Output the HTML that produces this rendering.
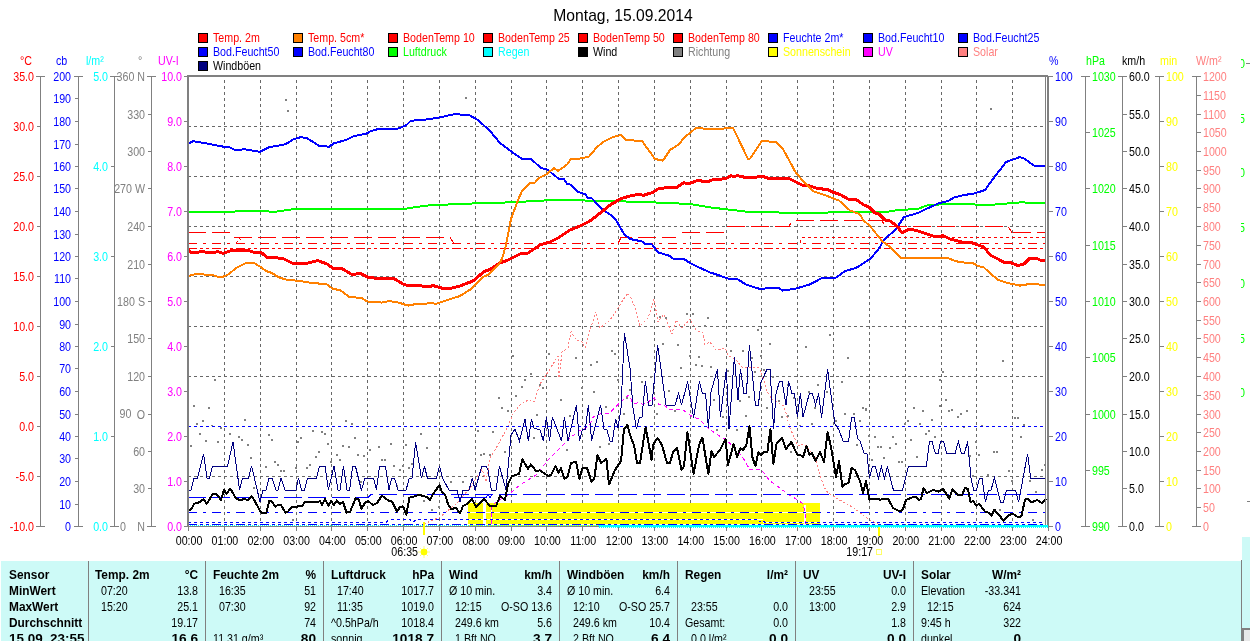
<!DOCTYPE html><html><head><meta charset="utf-8"><title>Chart</title><style>html,body{margin:0;padding:0;background:#fff;overflow:hidden}svg{display:block;will-change:transform}text{white-space:pre;font-family:"Liberation Sans",sans-serif}</style></head><body><svg width="1250" height="641" viewBox="0 0 1250 641" font-family="&quot;Liberation Sans&quot;, sans-serif" shape-rendering="crispEdges">
<rect x="0" y="0" width="1250" height="641" fill="#fff"/>
<text transform="translate(623,21) scale(0.98,1)" text-anchor="middle" fill="#000" font-size="16">Montag, 15.09.2014</text>
<rect x="198.5" y="33.5" width="9" height="9" fill="#f00" stroke="#000"/>
<text transform="translate(213,41.5) scale(0.89,1)" text-anchor="start" fill="#f00" font-size="12">Temp. 2m</text>
<rect x="293.5" y="33.5" width="9" height="9" fill="#ff8000" stroke="#000"/>
<text transform="translate(308,41.5) scale(0.89,1)" text-anchor="start" fill="#f00" font-size="12">Temp. 5cm*</text>
<rect x="388.5" y="33.5" width="9" height="9" fill="#f00" stroke="#000"/>
<text transform="translate(403,41.5) scale(0.89,1)" text-anchor="start" fill="#f00" font-size="12">BodenTemp 10</text>
<rect x="483.5" y="33.5" width="9" height="9" fill="#f00" stroke="#000"/>
<text transform="translate(498,41.5) scale(0.89,1)" text-anchor="start" fill="#f00" font-size="12">BodenTemp 25</text>
<rect x="578.5" y="33.5" width="9" height="9" fill="#f00" stroke="#000"/>
<text transform="translate(593,41.5) scale(0.89,1)" text-anchor="start" fill="#f00" font-size="12">BodenTemp 50</text>
<rect x="673.5" y="33.5" width="9" height="9" fill="#f00" stroke="#000"/>
<text transform="translate(688,41.5) scale(0.89,1)" text-anchor="start" fill="#f00" font-size="12">BodenTemp 80</text>
<rect x="768.5" y="33.5" width="9" height="9" fill="#00f" stroke="#000"/>
<text transform="translate(783,41.5) scale(0.89,1)" text-anchor="start" fill="#00f" font-size="12">Feuchte 2m*</text>
<rect x="863.5" y="33.5" width="9" height="9" fill="#00f" stroke="#000"/>
<text transform="translate(878,41.5) scale(0.89,1)" text-anchor="start" fill="#00f" font-size="12">Bod.Feucht10</text>
<rect x="958.5" y="33.5" width="9" height="9" fill="#00f" stroke="#000"/>
<text transform="translate(973,41.5) scale(0.89,1)" text-anchor="start" fill="#00f" font-size="12">Bod.Feucht25</text>
<rect x="198.5" y="47.5" width="9" height="9" fill="#00f" stroke="#000"/>
<text transform="translate(213,55.5) scale(0.89,1)" text-anchor="start" fill="#00f" font-size="12">Bod.Feucht50</text>
<rect x="293.5" y="47.5" width="9" height="9" fill="#00f" stroke="#000"/>
<text transform="translate(308,55.5) scale(0.89,1)" text-anchor="start" fill="#00f" font-size="12">Bod.Feucht80</text>
<rect x="388.5" y="47.5" width="9" height="9" fill="#0f0" stroke="#000"/>
<text transform="translate(403,55.5) scale(0.89,1)" text-anchor="start" fill="#0f0" font-size="12">Luftdruck</text>
<rect x="483.5" y="47.5" width="9" height="9" fill="#0ff" stroke="#000"/>
<text transform="translate(498,55.5) scale(0.89,1)" text-anchor="start" fill="#0ff" font-size="12">Regen</text>
<rect x="578.5" y="47.5" width="9" height="9" fill="#000" stroke="#000"/>
<text transform="translate(593,55.5) scale(0.89,1)" text-anchor="start" fill="#000" font-size="12">Wind</text>
<rect x="673.5" y="47.5" width="9" height="9" fill="#808080" stroke="#000"/>
<text transform="translate(688,55.5) scale(0.89,1)" text-anchor="start" fill="#808080" font-size="12">Richtung</text>
<rect x="768.5" y="47.5" width="9" height="9" fill="#ff0" stroke="#000"/>
<text transform="translate(783,55.5) scale(0.89,1)" text-anchor="start" fill="#ff0" font-size="12">Sonnenschein</text>
<rect x="863.5" y="47.5" width="9" height="9" fill="#f0f" stroke="#000"/>
<text transform="translate(878,55.5) scale(0.89,1)" text-anchor="start" fill="#f0f" font-size="12">UV</text>
<rect x="958.5" y="47.5" width="9" height="9" fill="#ff8080" stroke="#000"/>
<text transform="translate(973,55.5) scale(0.89,1)" text-anchor="start" fill="#ff8080" font-size="12">Solar</text>
<rect x="198.5" y="61.5" width="9" height="9" fill="#000080" stroke="#000"/>
<text transform="translate(213,69.5) scale(0.89,1)" text-anchor="start" fill="#000" font-size="12">Windböen</text>
<line x1="224.5" y1="77" x2="224.5" y2="526" stroke="#686868" stroke-width="1" stroke-dasharray="3,3" stroke-dashoffset="3"/>
<line x1="260.5" y1="77" x2="260.5" y2="526" stroke="#686868" stroke-width="1" stroke-dasharray="3,3" stroke-dashoffset="3"/>
<line x1="296.5" y1="77" x2="296.5" y2="526" stroke="#686868" stroke-width="1" stroke-dasharray="3,3" stroke-dashoffset="3"/>
<line x1="331.5" y1="77" x2="331.5" y2="526" stroke="#686868" stroke-width="1" stroke-dasharray="3,3" stroke-dashoffset="3"/>
<line x1="367.5" y1="77" x2="367.5" y2="526" stroke="#686868" stroke-width="1" stroke-dasharray="3,3" stroke-dashoffset="3"/>
<line x1="403.5" y1="77" x2="403.5" y2="526" stroke="#686868" stroke-width="1" stroke-dasharray="3,3" stroke-dashoffset="3"/>
<line x1="439.5" y1="77" x2="439.5" y2="526" stroke="#686868" stroke-width="1" stroke-dasharray="3,3" stroke-dashoffset="3"/>
<line x1="475.5" y1="77" x2="475.5" y2="526" stroke="#686868" stroke-width="1" stroke-dasharray="3,3" stroke-dashoffset="3"/>
<line x1="511.5" y1="77" x2="511.5" y2="526" stroke="#686868" stroke-width="1" stroke-dasharray="3,3" stroke-dashoffset="3"/>
<line x1="546.5" y1="77" x2="546.5" y2="526" stroke="#686868" stroke-width="1" stroke-dasharray="3,3" stroke-dashoffset="3"/>
<line x1="582.5" y1="77" x2="582.5" y2="526" stroke="#686868" stroke-width="1" stroke-dasharray="3,3" stroke-dashoffset="3"/>
<line x1="618.5" y1="77" x2="618.5" y2="526" stroke="#686868" stroke-width="1" stroke-dasharray="3,3" stroke-dashoffset="3"/>
<line x1="654.5" y1="77" x2="654.5" y2="526" stroke="#686868" stroke-width="1" stroke-dasharray="3,3" stroke-dashoffset="3"/>
<line x1="690.5" y1="77" x2="690.5" y2="526" stroke="#686868" stroke-width="1" stroke-dasharray="3,3" stroke-dashoffset="3"/>
<line x1="726.5" y1="77" x2="726.5" y2="526" stroke="#686868" stroke-width="1" stroke-dasharray="3,3" stroke-dashoffset="3"/>
<line x1="761.5" y1="77" x2="761.5" y2="526" stroke="#686868" stroke-width="1" stroke-dasharray="3,3" stroke-dashoffset="3"/>
<line x1="797.5" y1="77" x2="797.5" y2="526" stroke="#686868" stroke-width="1" stroke-dasharray="3,3" stroke-dashoffset="3"/>
<line x1="833.5" y1="77" x2="833.5" y2="526" stroke="#686868" stroke-width="1" stroke-dasharray="3,3" stroke-dashoffset="3"/>
<line x1="869.5" y1="77" x2="869.5" y2="526" stroke="#686868" stroke-width="1" stroke-dasharray="3,3" stroke-dashoffset="3"/>
<line x1="905.5" y1="77" x2="905.5" y2="526" stroke="#686868" stroke-width="1" stroke-dasharray="3,3" stroke-dashoffset="3"/>
<line x1="941.5" y1="77" x2="941.5" y2="526" stroke="#686868" stroke-width="1" stroke-dasharray="3,3" stroke-dashoffset="3"/>
<line x1="976.5" y1="77" x2="976.5" y2="526" stroke="#686868" stroke-width="1" stroke-dasharray="3,3" stroke-dashoffset="3"/>
<line x1="1012.5" y1="77" x2="1012.5" y2="526" stroke="#686868" stroke-width="1" stroke-dasharray="3,3" stroke-dashoffset="3"/>
<line x1="188" y1="126.5" x2="1045" y2="126.5" stroke="#686868" stroke-width="1" stroke-dasharray="3,3"/>
<line x1="188" y1="176.5" x2="1045" y2="176.5" stroke="#686868" stroke-width="1" stroke-dasharray="3,3"/>
<line x1="188" y1="226.5" x2="1045" y2="226.5" stroke="#686868" stroke-width="1" stroke-dasharray="3,3"/>
<line x1="188" y1="276.5" x2="1045" y2="276.5" stroke="#686868" stroke-width="1" stroke-dasharray="3,3"/>
<line x1="188" y1="326.5" x2="1045" y2="326.5" stroke="#686868" stroke-width="1" stroke-dasharray="3,3"/>
<line x1="188" y1="376.5" x2="1045" y2="376.5" stroke="#686868" stroke-width="1" stroke-dasharray="3,3"/>
<line x1="188" y1="426.5" x2="1045" y2="426.5" stroke="#686868" stroke-width="1" stroke-dasharray="3,3"/>
<line x1="188" y1="476.5" x2="1045" y2="476.5" stroke="#686868" stroke-width="1" stroke-dasharray="3,3"/>
<g clip-path="url(#plot)">
<defs><clipPath id="plot"><rect x="188" y="76" width="860" height="452"/></clipPath></defs>
<rect x="468" y="503" width="15" height="22.5" fill="#ff0"/>
<rect x="486" y="503" width="334" height="22.5" fill="#ff0"/>
<rect x="468" y="512" width="352" height="1" fill="#fff"/>
<rect x="468" y="524" width="352" height="1" fill="#fff"/>
<rect x="468" y="519" width="295" height="1" fill="#fff"/>
<rect x="763" y="522" width="57" height="1" fill="#fff"/>
<rect x="490.5" y="506" width="1" height="18" fill="#fff"/>
<rect x="803.5" y="505" width="2" height="19" fill="#fff"/>
<rect x="190" y="445" width="2" height="2" fill="#808080"/>
<rect x="193" y="405" width="2" height="2" fill="#808080"/>
<rect x="196" y="423" width="2" height="2" fill="#808080"/>
<rect x="199" y="433" width="2" height="2" fill="#808080"/>
<rect x="202" y="420" width="2" height="2" fill="#808080"/>
<rect x="205" y="440" width="2" height="2" fill="#808080"/>
<rect x="208" y="407" width="2" height="2" fill="#808080"/>
<rect x="211" y="425" width="2" height="2" fill="#808080"/>
<rect x="214" y="379" width="2" height="2" fill="#808080"/>
<rect x="217" y="441" width="2" height="2" fill="#808080"/>
<rect x="220" y="427" width="2" height="2" fill="#808080"/>
<rect x="229" y="433" width="2" height="2" fill="#808080"/>
<rect x="238" y="436" width="2" height="2" fill="#808080"/>
<rect x="241" y="439" width="2" height="2" fill="#808080"/>
<rect x="244" y="419" width="2" height="2" fill="#808080"/>
<rect x="247" y="444" width="2" height="2" fill="#808080"/>
<rect x="250" y="457" width="2" height="2" fill="#808080"/>
<rect x="253" y="487" width="2" height="2" fill="#808080"/>
<rect x="265" y="466" width="2" height="2" fill="#808080"/>
<rect x="268" y="434" width="2" height="2" fill="#808080"/>
<rect x="271" y="439" width="2" height="2" fill="#808080"/>
<rect x="274" y="461" width="2" height="2" fill="#808080"/>
<rect x="277" y="464" width="2" height="2" fill="#808080"/>
<rect x="280" y="470" width="2" height="2" fill="#808080"/>
<rect x="283" y="470" width="2" height="2" fill="#808080"/>
<rect x="285" y="99" width="2" height="2" fill="#808080"/>
<rect x="287" y="110" width="2" height="2" fill="#808080"/>
<rect x="292" y="519" width="2" height="2" fill="#808080"/>
<rect x="295" y="467" width="2" height="2" fill="#808080"/>
<rect x="297" y="441" width="2" height="2" fill="#808080"/>
<rect x="300" y="437" width="2" height="2" fill="#808080"/>
<rect x="306" y="467" width="2" height="2" fill="#808080"/>
<rect x="309" y="464" width="2" height="2" fill="#808080"/>
<rect x="312" y="430" width="2" height="2" fill="#808080"/>
<rect x="315" y="456" width="2" height="2" fill="#808080"/>
<rect x="318" y="451" width="2" height="2" fill="#808080"/>
<rect x="321" y="431" width="2" height="2" fill="#808080"/>
<rect x="324" y="433" width="2" height="2" fill="#808080"/>
<rect x="327" y="443" width="2" height="2" fill="#808080"/>
<rect x="330" y="461" width="2" height="2" fill="#808080"/>
<rect x="336" y="454" width="2" height="2" fill="#808080"/>
<rect x="339" y="459" width="2" height="2" fill="#808080"/>
<rect x="342" y="445" width="2" height="2" fill="#808080"/>
<rect x="345" y="420" width="2" height="2" fill="#808080"/>
<rect x="348" y="446" width="2" height="2" fill="#808080"/>
<rect x="351" y="423" width="2" height="2" fill="#808080"/>
<rect x="354" y="437" width="2" height="2" fill="#808080"/>
<rect x="357" y="454" width="2" height="2" fill="#808080"/>
<rect x="360" y="481" width="2" height="2" fill="#808080"/>
<rect x="363" y="455" width="2" height="2" fill="#808080"/>
<rect x="369" y="449" width="2" height="2" fill="#808080"/>
<rect x="378" y="446" width="2" height="2" fill="#808080"/>
<rect x="381" y="459" width="2" height="2" fill="#808080"/>
<rect x="384" y="459" width="2" height="2" fill="#808080"/>
<rect x="390" y="443" width="2" height="2" fill="#808080"/>
<rect x="393" y="465" width="2" height="2" fill="#808080"/>
<rect x="396" y="485" width="2" height="2" fill="#808080"/>
<rect x="399" y="469" width="2" height="2" fill="#808080"/>
<rect x="402" y="465" width="2" height="2" fill="#808080"/>
<rect x="405" y="444" width="2" height="2" fill="#808080"/>
<rect x="408" y="467" width="2" height="2" fill="#808080"/>
<rect x="411" y="463" width="2" height="2" fill="#808080"/>
<rect x="420" y="433" width="2" height="2" fill="#808080"/>
<rect x="423" y="500" width="2" height="2" fill="#808080"/>
<rect x="426" y="447" width="2" height="2" fill="#808080"/>
<rect x="431" y="509" width="2" height="2" fill="#808080"/>
<rect x="438" y="506" width="2" height="2" fill="#808080"/>
<rect x="450" y="481" width="2" height="2" fill="#808080"/>
<rect x="462" y="481" width="2" height="2" fill="#808080"/>
<rect x="465" y="97" width="2" height="2" fill="#808080"/>
<rect x="477" y="430" width="2" height="2" fill="#808080"/>
<rect x="480" y="454" width="2" height="2" fill="#808080"/>
<rect x="483" y="453" width="2" height="2" fill="#808080"/>
<rect x="489" y="454" width="2" height="2" fill="#808080"/>
<rect x="492" y="431" width="2" height="2" fill="#808080"/>
<rect x="498" y="397" width="2" height="2" fill="#808080"/>
<rect x="501" y="407" width="2" height="2" fill="#808080"/>
<rect x="504" y="451" width="2" height="2" fill="#808080"/>
<rect x="507" y="410" width="2" height="2" fill="#808080"/>
<rect x="512" y="355" width="2" height="2" fill="#808080"/>
<rect x="515" y="395" width="2" height="2" fill="#808080"/>
<rect x="521" y="386" width="2" height="2" fill="#808080"/>
<rect x="524" y="379" width="2" height="2" fill="#808080"/>
<rect x="530" y="373" width="2" height="2" fill="#808080"/>
<rect x="533" y="437" width="2" height="2" fill="#808080"/>
<rect x="536" y="414" width="2" height="2" fill="#808080"/>
<rect x="539" y="384" width="2" height="2" fill="#808080"/>
<rect x="542" y="387" width="2" height="2" fill="#808080"/>
<rect x="548" y="353" width="2" height="2" fill="#808080"/>
<rect x="560" y="399" width="2" height="2" fill="#808080"/>
<rect x="566" y="449" width="2" height="2" fill="#808080"/>
<rect x="569" y="415" width="2" height="2" fill="#808080"/>
<rect x="575" y="357" width="2" height="2" fill="#808080"/>
<rect x="581" y="387" width="2" height="2" fill="#808080"/>
<rect x="590" y="364" width="2" height="2" fill="#808080"/>
<rect x="593" y="391" width="2" height="2" fill="#808080"/>
<rect x="596" y="361" width="2" height="2" fill="#808080"/>
<rect x="599" y="446" width="2" height="2" fill="#808080"/>
<rect x="605" y="406" width="2" height="2" fill="#808080"/>
<rect x="608" y="443" width="2" height="2" fill="#808080"/>
<rect x="611" y="350" width="2" height="2" fill="#808080"/>
<rect x="614" y="353" width="2" height="2" fill="#808080"/>
<rect x="617" y="379" width="2" height="2" fill="#808080"/>
<rect x="623" y="413" width="2" height="2" fill="#808080"/>
<rect x="626" y="397" width="2" height="2" fill="#808080"/>
<rect x="629" y="389" width="2" height="2" fill="#808080"/>
<rect x="641" y="381" width="2" height="2" fill="#808080"/>
<rect x="650" y="376" width="2" height="2" fill="#808080"/>
<rect x="656" y="413" width="2" height="2" fill="#808080"/>
<rect x="659" y="316" width="2" height="2" fill="#808080"/>
<rect x="662" y="343" width="2" height="2" fill="#808080"/>
<rect x="665" y="317" width="2" height="2" fill="#808080"/>
<rect x="668" y="390" width="2" height="2" fill="#808080"/>
<rect x="674" y="410" width="2" height="2" fill="#808080"/>
<rect x="677" y="344" width="2" height="2" fill="#808080"/>
<rect x="680" y="367" width="2" height="2" fill="#808080"/>
<rect x="686" y="313" width="2" height="2" fill="#808080"/>
<rect x="689" y="355" width="2" height="2" fill="#808080"/>
<rect x="690" y="459" width="2" height="2" fill="#808080"/>
<rect x="692" y="313" width="2" height="2" fill="#808080"/>
<rect x="695" y="364" width="2" height="2" fill="#808080"/>
<rect x="698" y="356" width="2" height="2" fill="#808080"/>
<rect x="701" y="365" width="2" height="2" fill="#808080"/>
<rect x="704" y="325" width="2" height="2" fill="#808080"/>
<rect x="707" y="317" width="2" height="2" fill="#808080"/>
<rect x="710" y="366" width="2" height="2" fill="#808080"/>
<rect x="713" y="399" width="2" height="2" fill="#808080"/>
<rect x="716" y="429" width="2" height="2" fill="#808080"/>
<rect x="722" y="416" width="2" height="2" fill="#808080"/>
<rect x="727" y="370" width="2" height="2" fill="#808080"/>
<rect x="730" y="350" width="2" height="2" fill="#808080"/>
<rect x="736" y="429" width="2" height="2" fill="#808080"/>
<rect x="739" y="400" width="2" height="2" fill="#808080"/>
<rect x="742" y="350" width="2" height="2" fill="#808080"/>
<rect x="745" y="415" width="2" height="2" fill="#808080"/>
<rect x="748" y="396" width="2" height="2" fill="#808080"/>
<rect x="751" y="357" width="2" height="2" fill="#808080"/>
<rect x="754" y="371" width="2" height="2" fill="#808080"/>
<rect x="757" y="329" width="2" height="2" fill="#808080"/>
<rect x="760" y="355" width="2" height="2" fill="#808080"/>
<rect x="763" y="369" width="2" height="2" fill="#808080"/>
<rect x="766" y="407" width="2" height="2" fill="#808080"/>
<rect x="769" y="343" width="2" height="2" fill="#808080"/>
<rect x="772" y="376" width="2" height="2" fill="#808080"/>
<rect x="778" y="400" width="2" height="2" fill="#808080"/>
<rect x="781" y="416" width="2" height="2" fill="#808080"/>
<rect x="787" y="384" width="2" height="2" fill="#808080"/>
<rect x="787" y="415" width="2" height="2" fill="#808080"/>
<rect x="790" y="451" width="2" height="2" fill="#808080"/>
<rect x="793" y="397" width="2" height="2" fill="#808080"/>
<rect x="799" y="425" width="2" height="2" fill="#808080"/>
<rect x="805" y="346" width="2" height="2" fill="#808080"/>
<rect x="808" y="391" width="2" height="2" fill="#808080"/>
<rect x="811" y="423" width="2" height="2" fill="#808080"/>
<rect x="814" y="407" width="2" height="2" fill="#808080"/>
<rect x="817" y="384" width="2" height="2" fill="#808080"/>
<rect x="826" y="391" width="2" height="2" fill="#808080"/>
<rect x="829" y="334" width="2" height="2" fill="#808080"/>
<rect x="835" y="420" width="2" height="2" fill="#808080"/>
<rect x="841" y="381" width="2" height="2" fill="#808080"/>
<rect x="844" y="413" width="2" height="2" fill="#808080"/>
<rect x="847" y="357" width="2" height="2" fill="#808080"/>
<rect x="853" y="413" width="2" height="2" fill="#808080"/>
<rect x="856" y="444" width="2" height="2" fill="#808080"/>
<rect x="859" y="420" width="2" height="2" fill="#808080"/>
<rect x="862" y="407" width="2" height="2" fill="#808080"/>
<rect x="865" y="408" width="2" height="2" fill="#808080"/>
<rect x="865" y="409" width="2" height="2" fill="#808080"/>
<rect x="868" y="435" width="2" height="2" fill="#808080"/>
<rect x="871" y="459" width="2" height="2" fill="#808080"/>
<rect x="874" y="436" width="2" height="2" fill="#808080"/>
<rect x="877" y="446" width="2" height="2" fill="#808080"/>
<rect x="880" y="446" width="2" height="2" fill="#808080"/>
<rect x="883" y="457" width="2" height="2" fill="#808080"/>
<rect x="889" y="447" width="2" height="2" fill="#808080"/>
<rect x="892" y="436" width="2" height="2" fill="#808080"/>
<rect x="895" y="443" width="2" height="2" fill="#808080"/>
<rect x="898" y="461" width="2" height="2" fill="#808080"/>
<rect x="901" y="461" width="2" height="2" fill="#808080"/>
<rect x="904" y="423" width="2" height="2" fill="#808080"/>
<rect x="907" y="420" width="2" height="2" fill="#808080"/>
<rect x="910" y="439" width="2" height="2" fill="#808080"/>
<rect x="913" y="407" width="2" height="2" fill="#808080"/>
<rect x="916" y="456" width="2" height="2" fill="#808080"/>
<rect x="919" y="423" width="2" height="2" fill="#808080"/>
<rect x="922" y="410" width="2" height="2" fill="#808080"/>
<rect x="925" y="433" width="2" height="2" fill="#808080"/>
<rect x="928" y="430" width="2" height="2" fill="#808080"/>
<rect x="931" y="419" width="2" height="2" fill="#808080"/>
<rect x="934" y="436" width="2" height="2" fill="#808080"/>
<rect x="939" y="379" width="2" height="2" fill="#808080"/>
<rect x="939" y="405" width="2" height="2" fill="#808080"/>
<rect x="942" y="371" width="2" height="2" fill="#808080"/>
<rect x="945" y="399" width="2" height="2" fill="#808080"/>
<rect x="948" y="410" width="2" height="2" fill="#808080"/>
<rect x="951" y="409" width="2" height="2" fill="#808080"/>
<rect x="957" y="416" width="2" height="2" fill="#808080"/>
<rect x="960" y="413" width="2" height="2" fill="#808080"/>
<rect x="963" y="426" width="2" height="2" fill="#808080"/>
<rect x="966" y="410" width="2" height="2" fill="#808080"/>
<rect x="969" y="455" width="2" height="2" fill="#808080"/>
<rect x="972" y="475" width="2" height="2" fill="#808080"/>
<rect x="975" y="441" width="2" height="2" fill="#808080"/>
<rect x="978" y="454" width="2" height="2" fill="#808080"/>
<rect x="981" y="425" width="2" height="2" fill="#808080"/>
<rect x="987" y="474" width="2" height="2" fill="#808080"/>
<rect x="990" y="108" width="2" height="2" fill="#808080"/>
<rect x="993" y="451" width="2" height="2" fill="#808080"/>
<rect x="996" y="451" width="2" height="2" fill="#808080"/>
<rect x="999" y="509" width="2" height="2" fill="#808080"/>
<rect x="1002" y="360" width="2" height="2" fill="#808080"/>
<rect x="1008" y="470" width="2" height="2" fill="#808080"/>
<rect x="1011" y="480" width="2" height="2" fill="#808080"/>
<rect x="1014" y="417" width="2" height="2" fill="#808080"/>
<rect x="1017" y="417" width="2" height="2" fill="#808080"/>
<rect x="1020" y="436" width="2" height="2" fill="#808080"/>
<rect x="1023" y="424" width="2" height="2" fill="#808080"/>
<rect x="1029" y="480" width="2" height="2" fill="#808080"/>
<rect x="1032" y="519" width="2" height="2" fill="#808080"/>
<rect x="1035" y="491" width="2" height="2" fill="#808080"/>
<rect x="1041" y="469" width="2" height="2" fill="#808080"/>
<rect x="1044" y="464" width="2" height="2" fill="#808080"/>
<polyline points="424.0,524.0 440.0,517.0 456.0,504.0 470.0,488.0 482.0,469.0 486.0,482.0 490.0,458.0 498.0,445.0 508.0,426.0 514.0,412.0 520.0,405.0 528.0,400.0 534.0,402.0 540.0,384.0 548.0,372.0 558.0,356.0 559.0,378.0 562.0,352.0 568.0,348.0 571.0,331.6 576.0,340.0 582.0,342.0 585.0,348.0 590.0,330.0 596.0,312.0 600.0,328.0 610.0,320.0 618.0,308.0 623.0,300.0 628.0,293.0 632.0,300.0 636.0,310.0 640.0,326.0 648.0,318.0 654.0,299.0 658.0,322.0 664.0,314.0 672.0,334.0 676.0,320.0 682.0,328.0 690.0,319.0 696.0,330.0 703.0,333.0 705.0,345.0 710.0,342.0 716.0,350.0 725.0,348.0 728.0,355.0 736.0,360.0 742.0,367.0 748.0,367.0 759.0,368.0 764.0,380.0 767.0,392.0 773.0,400.0 784.0,406.0 790.0,428.0 798.0,446.0 804.0,444.0 816.0,458.0 820.0,476.0 826.0,491.0 836.0,498.0 854.0,508.0 868.0,519.0 878.0,524.0" fill="none" stroke="#ff8080" stroke-width="1" stroke-linejoin="round" stroke-dasharray="2,2"/>
<polyline points="491.0,524.0 491.0,506.0 498.0,501.0 508.0,495.0 520.0,485.0 536.0,475.0 548.0,460.0 560.0,448.0 568.0,440.0 577.6,431.6 589.0,426.0 593.6,416.4 600.0,414.0 609.6,413.0 619.0,403.6 624.0,398.8 629.0,395.0 633.0,403.6 638.4,402.8 643.0,404.4 649.6,401.0 654.4,398.0 659.0,404.4 664.0,405.0 669.0,409.0 681.6,409.0 693.0,417.0 699.0,419.0 709.0,429.0 720.0,436.4 726.4,439.6 733.0,447.0 742.0,456.0 750.0,470.0 761.0,469.0 770.0,481.0 780.0,488.0 790.0,495.6 798.0,500.0 803.0,504.0 805.0,512.0 806.0,524.0" fill="none" stroke="#f0f" stroke-width="1" stroke-linejoin="round" stroke-dasharray="4,3"/>
<rect x="188" y="426" width="858" height="1" fill="#fff"/>
<line x1="188" y1="426.5" x2="1046" y2="426.5" stroke="#00f" stroke-width="1" stroke-dasharray="3,3"/>
<polyline points="188.0,497.5 368.0,497.5 371.0,494.5 1046.0,494.5" fill="none" stroke="#00f" stroke-width="1" stroke-linejoin="round" stroke-dasharray="18,6"/>
<polyline points="454.0,497.5 486.0,497.5 488.0,494.5 490.0,497.5 492.0,494.5" fill="none" stroke="#00f" stroke-width="1" stroke-linejoin="round"/>
<line x1="188" y1="512.5" x2="1046" y2="512.5" stroke="#00f" stroke-width="1" stroke-dasharray="9,6,3,6"/>
<polyline points="188.0,522.5 386.0,522.5 389.0,519.5 410.0,519.5 413.0,522.5 416.0,519.5 758.0,519.5 760.0,522.0 762.0,519.5 765.0,522.5 1046.0,522.5" fill="none" stroke="#00f" stroke-width="1" stroke-linejoin="round" stroke-dasharray="3,3"/>
<line x1="188" y1="524.5" x2="1046" y2="524.5" stroke="#00f" stroke-width="1" stroke-dasharray="9,3,3,3,3,3"/>
<polyline points="188.0,232.5 230.0,232.5" fill="none" stroke="#f00" stroke-width="1" stroke-linejoin="round" stroke-dasharray="18,6"/>
<polyline points="234.0,237.5 450.0,237.5 454.0,243.5" fill="none" stroke="#f00" stroke-width="1" stroke-linejoin="round" stroke-dasharray="18,6"/>
<polyline points="618.0,243.5 621.0,237.5 676.0,237.5" fill="none" stroke="#f00" stroke-width="1" stroke-linejoin="round" stroke-dasharray="18,6"/>
<polyline points="682.0,232.5 724.0,232.5" fill="none" stroke="#f00" stroke-width="1" stroke-linejoin="round" stroke-dasharray="18,6"/>
<polyline points="727.0,226.5 789.0,226.5 792.0,220.5" fill="none" stroke="#f00" stroke-width="1" stroke-linejoin="round" stroke-dasharray="18,6"/>
<polyline points="796.0,220.5 882.0,220.5 885.0,226.5" fill="none" stroke="#f00" stroke-width="1" stroke-linejoin="round" stroke-dasharray="18,6"/>
<polyline points="889.0,226.5 1008.0,226.5 1012.0,232.5" fill="none" stroke="#f00" stroke-width="1" stroke-linejoin="round" stroke-dasharray="18,6"/>
<polyline points="1013.0,232.5 1046.0,232.5" fill="none" stroke="#f00" stroke-width="1" stroke-linejoin="round" stroke-dasharray="18,6"/>
<polyline points="239.0,238.0 241.0,240.0" fill="none" stroke="#f00" stroke-width="1" stroke-linejoin="round"/>
<polyline points="238.0,241.0 236.0,243.0" fill="none" stroke="#f00" stroke-width="1" stroke-linejoin="round"/>
<polyline points="800.0,243.0 802.0,237.5 1046.0,237.5" fill="none" stroke="#f00" stroke-width="1" stroke-linejoin="round" stroke-dasharray="3,3"/>
<line x1="188" y1="243.5" x2="1046" y2="243.5" stroke="#f00" stroke-width="1" stroke-dasharray="9,6,3,6"/>
<line x1="188" y1="248.5" x2="1046" y2="248.5" stroke="#f00" stroke-width="1" stroke-dasharray="9,3,3,3,3,3"/>
<polyline points="188.0,212.0 232.0,211.6 260.0,210.6 274.0,212.0 294.0,209.0 380.0,209.0 406.0,208.6 426.0,205.6 450.0,204.4 484.0,203.0 510.0,202.4 546.0,200.4 580.0,200.4 630.0,201.6 644.0,202.0 690.0,204.0 710.0,207.4 746.0,211.6 770.0,212.0 794.0,213.4 822.0,213.4 832.0,212.0 884.0,212.4 898.0,210.0 918.0,209.0 926.0,205.6 950.0,203.6 970.0,203.6 978.0,205.0 994.0,204.6 1020.0,202.4 1046.0,203.0" fill="none" stroke="#0f0" stroke-width="2" stroke-linejoin="round"/>
<polyline points="188.0,143.7 193.0,141.2 206.0,143.3 220.6,146.3 229.7,147.3 234.8,149.8 245.0,149.4 260.0,151.8 269.0,147.3 285.5,144.3 293.6,139.2 300.7,137.2 306.8,138.0 319.0,145.7 329.0,146.7 334.0,143.3 346.0,140.0 353.4,136.2 366.6,133.5 370.7,131.1 378.8,128.9 397.0,129.0 406.0,125.4 410.0,121.6 416.0,120.0 428.0,119.4 440.0,117.4 454.0,114.2 469.0,115.0 478.0,120.0 490.0,131.0 500.0,143.0 512.0,152.0 522.0,159.0 531.0,159.0 541.0,168.0 547.0,169.4 559.0,179.0 564.0,179.0 567.0,184.0 570.0,184.4 578.0,192.0 585.0,194.0 588.0,198.0 592.0,198.4 603.0,210.0 610.0,214.4 616.0,220.0 624.0,234.0 630.0,239.0 642.0,241.4 646.0,244.4 652.0,244.4 658.0,252.4 670.0,256.0 673.0,258.6 684.0,259.0 690.0,263.0 698.0,267.0 710.0,272.4 718.0,275.0 728.0,278.6 738.0,279.4 746.0,284.6 752.0,286.6 760.0,289.0 770.0,288.0 779.0,288.0 782.4,290.6 796.0,288.6 810.0,284.4 822.0,278.0 836.0,277.6 845.0,271.0 856.0,268.0 870.0,259.0 878.0,250.0 884.0,240.0 896.0,229.0 904.0,217.0 918.0,213.0 926.0,209.0 938.0,203.6 948.0,201.0 954.0,197.6 964.0,195.0 974.0,193.6 985.0,190.0 990.0,183.0 1006.0,162.0 1020.0,157.0 1025.0,159.0 1034.0,165.6 1046.0,166.0" fill="none" stroke="#00f" stroke-width="2" stroke-linejoin="round"/>
<polyline points="188.0,250.0 192.0,253.0 202.0,251.6 212.0,253.0 218.0,251.6 223.0,253.4 231.0,250.6 248.0,250.4 253.0,252.0 261.0,252.4 268.0,258.0 274.0,257.4 284.0,259.0 294.0,264.0 308.0,263.0 318.0,260.6 327.0,264.0 333.0,268.4 342.0,268.6 352.0,274.6 360.0,273.4 368.0,277.4 380.0,278.6 393.0,278.0 404.0,284.6 412.0,286.0 420.0,285.6 428.0,287.0 433.0,285.6 443.0,288.4 452.0,288.0 460.0,286.0 473.0,281.0 484.0,271.6 490.0,269.4 500.0,263.0 508.0,260.0 520.0,254.0 528.0,253.0 540.0,245.0 550.0,242.0 558.0,238.0 570.0,230.0 580.0,226.0 590.0,221.0 604.0,210.0 610.0,205.0 621.0,198.6 630.0,196.0 640.0,194.0 643.0,195.4 653.0,192.4 658.0,189.0 668.0,187.4 676.0,188.0 684.0,182.6 688.0,184.0 697.0,180.6 708.0,181.6 712.0,180.0 726.0,178.6 731.0,175.6 734.0,177.0 737.0,175.6 748.0,178.0 763.0,176.4 770.0,179.0 782.0,178.0 788.0,178.0 802.0,185.0 810.0,186.0 818.0,188.6 827.0,189.4 834.0,192.6 840.0,194.4 848.0,199.0 856.0,199.6 864.0,205.0 869.0,207.0 875.0,213.0 879.0,214.0 885.0,220.0 890.0,221.0 897.0,226.0 902.0,233.0 909.0,229.0 916.0,230.4 924.0,233.0 936.0,237.0 943.0,235.6 950.0,239.0 962.0,242.0 970.0,242.0 978.0,245.0 984.0,247.0 990.0,255.0 998.0,259.0 1004.0,262.4 1010.0,262.4 1018.0,265.6 1024.0,264.0 1030.0,258.0 1036.0,258.0 1042.0,261.0 1046.0,260.0" fill="none" stroke="#f00" stroke-width="3" stroke-linejoin="round"/>
<polyline points="188.0,276.0 196.0,274.0 212.0,275.0 221.0,277.6 228.0,274.6 237.0,267.4 246.0,263.0 254.0,263.0 260.0,266.6 266.0,271.0 272.0,273.0 278.0,277.0 286.0,279.6 300.0,281.0 310.0,282.6 327.0,284.4 333.0,289.0 340.0,290.0 350.0,297.4 361.0,297.6 367.0,301.4 382.0,302.6 389.0,301.0 398.0,302.4 408.0,305.6 416.0,304.0 430.0,303.4 437.0,303.6 446.0,300.4 460.0,296.0 472.0,288.4 484.0,276.4 488.0,275.0 498.0,265.4 502.0,259.0 506.0,245.0 511.0,219.0 518.0,200.0 522.0,191.0 530.0,183.0 535.0,182.6 538.0,178.6 546.0,174.6 554.0,168.0 558.0,171.0 567.0,164.6 571.0,159.0 580.0,158.6 589.0,156.6 597.0,147.0 604.0,141.4 613.0,137.0 621.0,135.0 626.0,140.0 642.0,141.0 655.0,159.0 663.0,160.6 670.0,150.0 678.0,145.0 685.0,137.0 696.0,128.0 710.0,129.0 722.0,128.6 733.0,128.0 736.0,134.0 748.0,159.0 750.0,158.6 762.0,141.0 776.0,142.0 783.0,149.0 796.0,173.0 804.0,182.0 814.0,191.6 826.0,195.6 839.0,200.6 850.0,210.4 860.0,214.4 863.0,220.0 870.0,226.0 882.0,241.0 890.0,247.0 901.0,258.0 916.0,258.4 922.0,257.6 934.0,258.4 948.0,258.0 955.0,261.0 962.0,262.4 973.0,263.0 977.0,265.6 984.0,267.6 990.0,273.0 998.0,280.0 1008.0,283.0 1020.0,285.6 1032.0,283.6 1046.0,285.4" fill="none" stroke="#ff8000" stroke-width="2" stroke-linejoin="round"/>
<polyline points="188.0,490.0 191.0,490.0 194.0,478.0 197.6,478.0 203.6,454.0 207.0,478.0 209.6,478.0 212.6,466.0 227.6,466.0 233.0,442.0 239.6,490.0 242.6,478.0 248.6,478.0 251.6,466.0 260.0,502.0 263.0,490.0 266.0,490.0 269.0,478.0 272.0,478.0 276.0,490.0 278.0,490.0 281.0,478.0 285.0,490.0 296.0,490.0 298.4,478.0 301.6,490.0 304.4,490.0 307.4,478.0 316.4,478.0 319.4,466.0 325.0,466.0 328.4,490.0 334.0,466.0 338.0,490.0 340.0,490.0 343.4,466.0 347.0,490.0 349.6,490.0 352.6,466.0 355.4,466.0 361.4,490.0 365.0,478.0 373.4,478.0 376.4,490.0 379.6,466.0 385.4,466.0 389.0,490.0 391.6,478.0 394.4,478.0 398.0,490.0 406.0,490.0 409.4,478.0 412.0,478.0 415.6,442.0 421.4,478.0 424.4,466.0 427.4,478.0 436.4,478.0 439.4,466.0 442.4,478.0 449.0,490.0 457.0,490.0 460.0,502.0 463.0,490.0 469.0,490.0 472.4,478.0 475.0,490.0 481.0,469.0 482.0,466.0 486.0,466.0 488.0,470.0 491.4,490.0 496.0,490.0 499.4,466.0 506.0,490.0 511.0,435.0 515.0,429.0 519.4,441.0 525.0,419.0 528.4,441.0 531.4,419.0 534.0,428.0 540.0,430.0 543.4,441.0 546.4,417.0 549.6,441.0 552.4,417.0 557.0,429.0 561.6,441.0 564.4,417.0 568.0,441.0 576.4,405.0 579.4,441.0 582.4,429.0 585.4,429.0 588.4,405.0 591.6,441.0 600.6,405.0 604.0,429.0 607.0,430.0 610.0,441.0 612.4,441.0 615.6,419.0 618.0,428.0 621.0,408.0 624.4,333.0 630.0,368.0 633.0,408.0 636.4,429.0 639.4,417.0 642.0,417.0 645.4,381.4 648.6,405.0 652.0,405.0 657.6,345.0 666.0,405.0 675.0,405.0 678.6,393.4 681.6,405.0 687.6,381.4 693.6,418.0 699.4,381.4 702.4,393.4 705.6,393.4 708.4,428.0 711.0,392.0 717.4,369.4 720.4,417.0 726.4,369.4 729.0,429.0 734.4,357.0 738.0,400.0 740.4,369.4 744.0,393.4 746.4,393.4 749.4,345.0 755.4,405.0 758.4,405.0 761.0,382.0 767.0,369.4 770.0,369.4 773.6,429.0 776.0,394.0 779.4,381.4 782.0,381.4 786.0,405.0 788.6,381.4 792.0,393.4 794.4,393.4 797.4,417.0 800.4,393.4 803.0,417.0 809.4,393.4 812.4,393.4 815.6,405.0 818.6,393.4 821.6,417.6 827.6,369.4 833.0,410.0 835.0,424.0 839.0,430.0 843.0,441.0 848.6,441.0 851.6,417.6 854.4,417.6 857.4,438.0 860.0,441.0 864.0,453.0 867.0,454.0 869.4,478.0 872.4,466.4 875.4,466.4 878.4,478.0 881.4,466.4 884.4,478.0 887.4,466.4 893.4,490.0 902.4,490.0 908.4,466.4 926.4,466.4 929.4,441.4 932.0,441.4 935.4,453.6 938.0,453.6 940.6,441.4 943.6,441.4 946.6,453.6 955.0,453.6 958.4,441.4 961.4,453.6 964.4,453.6 967.6,441.4 971.0,478.0 973.6,490.0 976.4,490.0 979.4,478.0 982.0,478.0 985.4,502.0 988.4,490.0 991.0,490.0 994.4,478.0 1000.6,502.0 1003.4,502.0 1006.4,490.0 1015.6,490.0 1018.6,502.0 1027.6,453.6 1030.6,478.0 1046.0,478.0" fill="none" stroke="#000080" stroke-width="1" stroke-linejoin="miter"/>
<polyline points="188.0,510.0 191.0,509.6 194.4,503.6 199.0,502.4 203.6,499.0 206.6,504.0 213.0,493.6 216.0,493.6 221.0,500.0 224.0,490.0 226.4,493.6 230.4,488.6 236.0,498.6 240.0,500.0 245.0,499.0 248.0,500.4 251.6,496.0 254.0,499.6 261.0,512.6 266.4,512.6 269.4,500.6 272.4,502.0 275.4,507.0 278.0,504.6 281.0,505.0 285.4,512.6 288.0,511.6 292.0,507.0 296.0,507.4 299.0,505.6 301.6,506.4 305.0,502.0 317.0,502.4 320.0,501.0 322.0,505.0 325.0,499.0 328.4,505.6 331.0,501.0 334.0,505.0 337.0,500.4 340.0,504.0 343.0,502.0 346.6,512.6 350.0,512.0 355.6,498.4 358.6,499.0 361.4,508.6 365.0,503.0 368.0,501.0 373.0,505.0 377.0,503.0 382.0,495.6 388.0,500.4 392.0,501.4 397.0,511.6 400.0,507.0 403.0,506.4 406.4,514.6 409.4,497.6 416.0,496.0 419.0,494.6 423.0,496.0 427.0,497.0 430.0,500.0 433.0,494.0 436.0,490.0 439.4,485.0 442.0,492.0 445.0,494.4 448.0,504.0 451.0,509.0 456.0,508.0 460.0,513.6 463.0,506.0 467.0,504.0 472.0,499.0 476.0,507.0 484.0,499.0 490.0,506.0 496.0,506.0 500.0,496.0 505.0,500.0 508.0,484.0 512.0,476.0 519.0,474.0 522.4,459.0 528.0,469.0 531.0,464.4 536.0,471.0 540.0,470.4 548.0,476.0 551.0,475.0 555.6,466.0 558.6,473.0 561.0,468.0 564.4,479.0 567.4,477.0 571.0,463.0 576.0,461.6 579.4,479.0 582.4,468.0 587.0,468.0 591.6,482.0 594.4,478.0 597.4,455.0 601.0,463.0 606.4,459.0 609.0,484.6 615.0,470.0 621.0,461.0 624.0,429.0 627.4,425.0 631.0,438.0 634.0,445.0 637.0,463.0 640.0,463.0 645.6,427.0 651.6,460.0 653.0,445.0 657.6,438.0 662.0,445.0 667.0,463.0 670.0,463.0 673.0,452.0 677.0,448.0 681.6,470.0 684.0,466.0 687.4,432.0 693.6,474.0 699.0,445.0 702.4,437.6 708.4,474.0 711.4,451.0 714.0,457.0 720.0,450.0 725.6,439.0 728.0,465.0 733.6,444.0 737.0,457.0 740.4,448.0 743.0,450.0 746.4,445.0 749.4,426.0 752.4,457.0 755.4,466.0 758.4,452.0 761.0,455.0 764.0,451.6 767.4,451.6 770.4,429.0 773.4,464.0 776.4,444.0 782.0,438.0 786.0,449.0 791.4,442.0 797.4,455.0 800.4,455.0 803.0,457.0 806.6,446.0 809.4,455.0 812.0,453.0 815.6,461.0 820.0,452.0 824.0,462.0 827.6,432.0 831.0,447.0 836.0,477.0 839.0,461.0 842.4,487.0 845.0,484.0 848.6,483.0 851.6,468.0 855.0,470.0 860.0,481.0 863.0,493.0 866.0,481.0 869.4,499.6 875.0,498.6 880.0,499.6 888.0,498.6 893.0,508.0 900.0,511.6 903.0,509.0 906.0,500.0 913.0,497.0 916.0,497.0 919.0,500.0 921.0,499.0 923.6,488.0 927.0,493.0 933.0,490.0 939.0,491.6 943.0,489.0 949.4,498.6 952.4,489.0 958.0,495.0 962.0,495.0 965.0,488.0 968.0,489.0 970.4,502.0 973.4,501.0 976.4,506.0 979.0,503.6 985.0,511.6 988.0,512.4 991.4,515.6 994.4,509.6 997.4,513.6 1000.0,516.0 1003.4,521.0 1008.0,515.6 1012.4,513.6 1019.0,517.6 1021.6,515.6 1025.0,499.6 1028.0,499.0 1031.0,502.6 1037.0,500.0 1042.0,503.0 1046.0,498.6" fill="none" stroke="#000" stroke-width="2" stroke-linejoin="round"/>
<line x1="188" y1="525.5" x2="599" y2="525.5" stroke="#0ff" stroke-width="1" stroke-dasharray="1,1"/>
</g>
<rect x="188" y="75" width="860" height="2" fill="#808080"/>
<rect x="187" y="75" width="2" height="452" fill="#808080"/>
<rect x="1045" y="76" width="1" height="451" fill="#808080"/>
<rect x="1047" y="76" width="2" height="451" fill="#808080"/>
<rect x="187" y="526" width="862" height="1" fill="#808080"/>
<rect x="599" y="525" width="449" height="2" fill="#0ff"/>
<line x1="599" y1="527.5" x2="1048" y2="527.5" stroke="#0ff" stroke-width="1" stroke-dasharray="1,1"/>
<line x1="188.5" y1="527" x2="188.5" y2="531" stroke="#808080" stroke-width="1"/>
<text transform="translate(189.07,545) scale(0.89,1)" text-anchor="middle" fill="#000" font-size="12">00:00</text>
<line x1="224.5" y1="527" x2="224.5" y2="531" stroke="#808080" stroke-width="1"/>
<text transform="translate(224.9033,545) scale(0.89,1)" text-anchor="middle" fill="#000" font-size="12">01:00</text>
<line x1="260.5" y1="527" x2="260.5" y2="531" stroke="#808080" stroke-width="1"/>
<text transform="translate(260.7366,545) scale(0.89,1)" text-anchor="middle" fill="#000" font-size="12">02:00</text>
<line x1="296.5" y1="527" x2="296.5" y2="531" stroke="#808080" stroke-width="1"/>
<text transform="translate(296.56989999999996,545) scale(0.89,1)" text-anchor="middle" fill="#000" font-size="12">03:00</text>
<line x1="331.5" y1="527" x2="331.5" y2="531" stroke="#808080" stroke-width="1"/>
<text transform="translate(332.40319999999997,545) scale(0.89,1)" text-anchor="middle" fill="#000" font-size="12">04:00</text>
<line x1="367.5" y1="527" x2="367.5" y2="531" stroke="#808080" stroke-width="1"/>
<text transform="translate(368.2365,545) scale(0.89,1)" text-anchor="middle" fill="#000" font-size="12">05:00</text>
<line x1="403.5" y1="527" x2="403.5" y2="531" stroke="#808080" stroke-width="1"/>
<text transform="translate(404.0698,545) scale(0.89,1)" text-anchor="middle" fill="#000" font-size="12">06:00</text>
<line x1="439.5" y1="527" x2="439.5" y2="531" stroke="#808080" stroke-width="1"/>
<text transform="translate(439.9031,545) scale(0.89,1)" text-anchor="middle" fill="#000" font-size="12">07:00</text>
<line x1="475.5" y1="527" x2="475.5" y2="531" stroke="#808080" stroke-width="1"/>
<text transform="translate(475.7364,545) scale(0.89,1)" text-anchor="middle" fill="#000" font-size="12">08:00</text>
<line x1="511.5" y1="527" x2="511.5" y2="531" stroke="#808080" stroke-width="1"/>
<text transform="translate(511.5697,545) scale(0.89,1)" text-anchor="middle" fill="#000" font-size="12">09:00</text>
<line x1="546.5" y1="527" x2="546.5" y2="531" stroke="#808080" stroke-width="1"/>
<text transform="translate(547.403,545) scale(0.89,1)" text-anchor="middle" fill="#000" font-size="12">10:00</text>
<line x1="582.5" y1="527" x2="582.5" y2="531" stroke="#808080" stroke-width="1"/>
<text transform="translate(583.2363,545) scale(0.89,1)" text-anchor="middle" fill="#000" font-size="12">11:00</text>
<line x1="618.5" y1="527" x2="618.5" y2="531" stroke="#808080" stroke-width="1"/>
<text transform="translate(619.0696,545) scale(0.89,1)" text-anchor="middle" fill="#000" font-size="12">12:00</text>
<line x1="654.5" y1="527" x2="654.5" y2="531" stroke="#808080" stroke-width="1"/>
<text transform="translate(654.9029,545) scale(0.89,1)" text-anchor="middle" fill="#000" font-size="12">13:00</text>
<line x1="690.5" y1="527" x2="690.5" y2="531" stroke="#808080" stroke-width="1"/>
<text transform="translate(690.7362,545) scale(0.89,1)" text-anchor="middle" fill="#000" font-size="12">14:00</text>
<line x1="726.5" y1="527" x2="726.5" y2="531" stroke="#808080" stroke-width="1"/>
<text transform="translate(726.5695000000001,545) scale(0.89,1)" text-anchor="middle" fill="#000" font-size="12">15:00</text>
<line x1="761.5" y1="527" x2="761.5" y2="531" stroke="#808080" stroke-width="1"/>
<text transform="translate(762.4028000000001,545) scale(0.89,1)" text-anchor="middle" fill="#000" font-size="12">16:00</text>
<line x1="797.5" y1="527" x2="797.5" y2="531" stroke="#808080" stroke-width="1"/>
<text transform="translate(798.2361000000001,545) scale(0.89,1)" text-anchor="middle" fill="#000" font-size="12">17:00</text>
<line x1="833.5" y1="527" x2="833.5" y2="531" stroke="#808080" stroke-width="1"/>
<text transform="translate(834.0694000000001,545) scale(0.89,1)" text-anchor="middle" fill="#000" font-size="12">18:00</text>
<line x1="869.5" y1="527" x2="869.5" y2="531" stroke="#808080" stroke-width="1"/>
<text transform="translate(869.9027000000001,545) scale(0.89,1)" text-anchor="middle" fill="#000" font-size="12">19:00</text>
<line x1="905.5" y1="527" x2="905.5" y2="531" stroke="#808080" stroke-width="1"/>
<text transform="translate(905.7360000000001,545) scale(0.89,1)" text-anchor="middle" fill="#000" font-size="12">20:00</text>
<line x1="941.5" y1="527" x2="941.5" y2="531" stroke="#808080" stroke-width="1"/>
<text transform="translate(941.5693000000001,545) scale(0.89,1)" text-anchor="middle" fill="#000" font-size="12">21:00</text>
<line x1="976.5" y1="527" x2="976.5" y2="531" stroke="#808080" stroke-width="1"/>
<text transform="translate(977.4026000000001,545) scale(0.89,1)" text-anchor="middle" fill="#000" font-size="12">22:00</text>
<line x1="1012.5" y1="527" x2="1012.5" y2="531" stroke="#808080" stroke-width="1"/>
<text transform="translate(1013.2359000000001,545) scale(0.89,1)" text-anchor="middle" fill="#000" font-size="12">23:00</text>
<line x1="1048.5" y1="527" x2="1048.5" y2="531" stroke="#808080" stroke-width="1"/>
<text transform="translate(1049.0692,545) scale(0.89,1)" text-anchor="middle" fill="#000" font-size="12">24:00</text>
<rect x="423" y="522" width="2" height="13" fill="#ff0"/>
<text transform="translate(418,556) scale(0.89,1)" text-anchor="end" fill="#000" font-size="12">06:35</text>
<g shape-rendering="auto"><circle cx="424" cy="552" r="3.2" fill="#ff0"/><g stroke="#ffff80" stroke-width="1"><line x1="424" y1="546" x2="424" y2="558"/><line x1="418" y1="552" x2="430" y2="552"/><line x1="420" y1="548" x2="428" y2="556"/><line x1="428" y1="548" x2="420" y2="556"/></g><circle cx="424" cy="552" r="3.2" fill="#ff0"/></g>
<rect x="878" y="527" width="2" height="9" fill="#ff0"/>
<text transform="translate(873,556) scale(0.89,1)" text-anchor="end" fill="#000" font-size="12">19:17</text>
<rect x="876.5" y="549.5" width="5" height="5" fill="none" stroke="#ff6"/>
<line x1="40.5" y1="76" x2="40.5" y2="526" stroke="#808080" stroke-width="1"/>
<line x1="36.5" y1="76.5" x2="40.5" y2="76.5" stroke="#808080" stroke-width="1"/>
<text transform="translate(34,80.5) scale(0.89,1)" text-anchor="end" fill="#f00" font-size="12">35.0</text>
<line x1="36.5" y1="126.5" x2="40.5" y2="126.5" stroke="#808080" stroke-width="1"/>
<text transform="translate(34,130.5) scale(0.89,1)" text-anchor="end" fill="#f00" font-size="12">30.0</text>
<line x1="36.5" y1="176.5" x2="40.5" y2="176.5" stroke="#808080" stroke-width="1"/>
<text transform="translate(34,180.5) scale(0.89,1)" text-anchor="end" fill="#f00" font-size="12">25.0</text>
<line x1="36.5" y1="226.5" x2="40.5" y2="226.5" stroke="#808080" stroke-width="1"/>
<text transform="translate(34,230.5) scale(0.89,1)" text-anchor="end" fill="#f00" font-size="12">20.0</text>
<line x1="36.5" y1="276.5" x2="40.5" y2="276.5" stroke="#808080" stroke-width="1"/>
<text transform="translate(34,280.5) scale(0.89,1)" text-anchor="end" fill="#f00" font-size="12">15.0</text>
<line x1="36.5" y1="326.5" x2="40.5" y2="326.5" stroke="#808080" stroke-width="1"/>
<text transform="translate(34,330.5) scale(0.89,1)" text-anchor="end" fill="#f00" font-size="12">10.0</text>
<line x1="36.5" y1="376.5" x2="40.5" y2="376.5" stroke="#808080" stroke-width="1"/>
<text transform="translate(34,380.5) scale(0.89,1)" text-anchor="end" fill="#f00" font-size="12">5.0</text>
<line x1="36.5" y1="426.5" x2="40.5" y2="426.5" stroke="#808080" stroke-width="1"/>
<text transform="translate(34,430.5) scale(0.89,1)" text-anchor="end" fill="#f00" font-size="12">0.0</text>
<line x1="36.5" y1="476.5" x2="40.5" y2="476.5" stroke="#808080" stroke-width="1"/>
<text transform="translate(34,480.5) scale(0.89,1)" text-anchor="end" fill="#f00" font-size="12">-5.0</text>
<line x1="36.5" y1="526.5" x2="40.5" y2="526.5" stroke="#808080" stroke-width="1"/>
<text transform="translate(34,530.5) scale(0.89,1)" text-anchor="end" fill="#f00" font-size="12">-10.0</text>
<line x1="36" y1="76.5" x2="45" y2="76.5" stroke="#808080" stroke-width="1"/>
<line x1="36" y1="526.5" x2="45" y2="526.5" stroke="#808080" stroke-width="1"/>
<text transform="translate(20,65) scale(0.89,1)" text-anchor="start" fill="#f00" font-size="12">°C</text>
<line x1="78.5" y1="76" x2="78.5" y2="526" stroke="#808080" stroke-width="1"/>
<line x1="74.5" y1="76.5" x2="78.5" y2="76.5" stroke="#808080" stroke-width="1"/>
<text transform="translate(71,80.5) scale(0.89,1)" text-anchor="end" fill="#00f" font-size="12">200</text>
<line x1="74.5" y1="98.5" x2="78.5" y2="98.5" stroke="#808080" stroke-width="1"/>
<text transform="translate(71,102.5) scale(0.89,1)" text-anchor="end" fill="#00f" font-size="12">190</text>
<line x1="74.5" y1="121.5" x2="78.5" y2="121.5" stroke="#808080" stroke-width="1"/>
<text transform="translate(71,125.5) scale(0.89,1)" text-anchor="end" fill="#00f" font-size="12">180</text>
<line x1="74.5" y1="144.5" x2="78.5" y2="144.5" stroke="#808080" stroke-width="1"/>
<text transform="translate(71,148.5) scale(0.89,1)" text-anchor="end" fill="#00f" font-size="12">170</text>
<line x1="74.5" y1="166.5" x2="78.5" y2="166.5" stroke="#808080" stroke-width="1"/>
<text transform="translate(71,170.5) scale(0.89,1)" text-anchor="end" fill="#00f" font-size="12">160</text>
<line x1="74.5" y1="188.5" x2="78.5" y2="188.5" stroke="#808080" stroke-width="1"/>
<text transform="translate(71,192.5) scale(0.89,1)" text-anchor="end" fill="#00f" font-size="12">150</text>
<line x1="74.5" y1="211.5" x2="78.5" y2="211.5" stroke="#808080" stroke-width="1"/>
<text transform="translate(71,215.5) scale(0.89,1)" text-anchor="end" fill="#00f" font-size="12">140</text>
<line x1="74.5" y1="234.5" x2="78.5" y2="234.5" stroke="#808080" stroke-width="1"/>
<text transform="translate(71,238.5) scale(0.89,1)" text-anchor="end" fill="#00f" font-size="12">130</text>
<line x1="74.5" y1="256.5" x2="78.5" y2="256.5" stroke="#808080" stroke-width="1"/>
<text transform="translate(71,260.5) scale(0.89,1)" text-anchor="end" fill="#00f" font-size="12">120</text>
<line x1="74.5" y1="278.5" x2="78.5" y2="278.5" stroke="#808080" stroke-width="1"/>
<text transform="translate(71,282.5) scale(0.89,1)" text-anchor="end" fill="#00f" font-size="12">110</text>
<line x1="74.5" y1="301.5" x2="78.5" y2="301.5" stroke="#808080" stroke-width="1"/>
<text transform="translate(71,305.5) scale(0.89,1)" text-anchor="end" fill="#00f" font-size="12">100</text>
<line x1="74.5" y1="324.5" x2="78.5" y2="324.5" stroke="#808080" stroke-width="1"/>
<text transform="translate(71,328.5) scale(0.89,1)" text-anchor="end" fill="#00f" font-size="12">90</text>
<line x1="74.5" y1="346.5" x2="78.5" y2="346.5" stroke="#808080" stroke-width="1"/>
<text transform="translate(71,350.5) scale(0.89,1)" text-anchor="end" fill="#00f" font-size="12">80</text>
<line x1="74.5" y1="368.5" x2="78.5" y2="368.5" stroke="#808080" stroke-width="1"/>
<text transform="translate(71,372.5) scale(0.89,1)" text-anchor="end" fill="#00f" font-size="12">70</text>
<line x1="74.5" y1="391.5" x2="78.5" y2="391.5" stroke="#808080" stroke-width="1"/>
<text transform="translate(71,395.5) scale(0.89,1)" text-anchor="end" fill="#00f" font-size="12">60</text>
<line x1="74.5" y1="414.5" x2="78.5" y2="414.5" stroke="#808080" stroke-width="1"/>
<text transform="translate(71,418.5) scale(0.89,1)" text-anchor="end" fill="#00f" font-size="12">50</text>
<line x1="74.5" y1="436.5" x2="78.5" y2="436.5" stroke="#808080" stroke-width="1"/>
<text transform="translate(71,440.5) scale(0.89,1)" text-anchor="end" fill="#00f" font-size="12">40</text>
<line x1="74.5" y1="458.5" x2="78.5" y2="458.5" stroke="#808080" stroke-width="1"/>
<text transform="translate(71,462.5) scale(0.89,1)" text-anchor="end" fill="#00f" font-size="12">30</text>
<line x1="74.5" y1="481.5" x2="78.5" y2="481.5" stroke="#808080" stroke-width="1"/>
<text transform="translate(71,485.5) scale(0.89,1)" text-anchor="end" fill="#00f" font-size="12">20</text>
<line x1="74.5" y1="504.5" x2="78.5" y2="504.5" stroke="#808080" stroke-width="1"/>
<text transform="translate(71,508.5) scale(0.89,1)" text-anchor="end" fill="#00f" font-size="12">10</text>
<line x1="74.5" y1="526.5" x2="78.5" y2="526.5" stroke="#808080" stroke-width="1"/>
<text transform="translate(71,530.5) scale(0.89,1)" text-anchor="end" fill="#00f" font-size="12">0</text>
<line x1="74" y1="76.5" x2="83" y2="76.5" stroke="#808080" stroke-width="1"/>
<line x1="74" y1="526.5" x2="83" y2="526.5" stroke="#808080" stroke-width="1"/>
<text transform="translate(56,65) scale(0.89,1)" text-anchor="start" fill="#00f" font-size="12">cb</text>
<line x1="114.5" y1="76" x2="114.5" y2="526" stroke="#808080" stroke-width="1"/>
<line x1="110.5" y1="76.5" x2="114.5" y2="76.5" stroke="#808080" stroke-width="1"/>
<text transform="translate(108,80.5) scale(0.89,1)" text-anchor="end" fill="#0ff" font-size="12">5.0</text>
<line x1="110.5" y1="166.5" x2="114.5" y2="166.5" stroke="#808080" stroke-width="1"/>
<text transform="translate(108,170.5) scale(0.89,1)" text-anchor="end" fill="#0ff" font-size="12">4.0</text>
<line x1="110.5" y1="256.5" x2="114.5" y2="256.5" stroke="#808080" stroke-width="1"/>
<text transform="translate(108,260.5) scale(0.89,1)" text-anchor="end" fill="#0ff" font-size="12">3.0</text>
<line x1="110.5" y1="346.5" x2="114.5" y2="346.5" stroke="#808080" stroke-width="1"/>
<text transform="translate(108,350.5) scale(0.89,1)" text-anchor="end" fill="#0ff" font-size="12">2.0</text>
<line x1="110.5" y1="436.5" x2="114.5" y2="436.5" stroke="#808080" stroke-width="1"/>
<text transform="translate(108,440.5) scale(0.89,1)" text-anchor="end" fill="#0ff" font-size="12">1.0</text>
<line x1="110.5" y1="526.5" x2="114.5" y2="526.5" stroke="#808080" stroke-width="1"/>
<text transform="translate(108,530.5) scale(0.89,1)" text-anchor="end" fill="#0ff" font-size="12">0.0</text>
<line x1="110" y1="76.5" x2="119" y2="76.5" stroke="#808080" stroke-width="1"/>
<line x1="110" y1="526.5" x2="119" y2="526.5" stroke="#808080" stroke-width="1"/>
<text transform="translate(86,65) scale(0.89,1)" text-anchor="start" fill="#0ff" font-size="12">l/m²</text>
<line x1="151.5" y1="76" x2="151.5" y2="526" stroke="#808080" stroke-width="1"/>
<line x1="147.5" y1="76.5" x2="151.5" y2="76.5" stroke="#808080" stroke-width="1"/>
<text transform="translate(145,80.5) scale(0.89,1)" text-anchor="end" fill="#808080" font-size="12">360 N</text>
<line x1="147.5" y1="114.5" x2="151.5" y2="114.5" stroke="#808080" stroke-width="1"/>
<text transform="translate(145,118.5) scale(0.89,1)" text-anchor="end" fill="#808080" font-size="12">330</text>
<line x1="147.5" y1="151.5" x2="151.5" y2="151.5" stroke="#808080" stroke-width="1"/>
<text transform="translate(145,155.5) scale(0.89,1)" text-anchor="end" fill="#808080" font-size="12">300</text>
<line x1="147.5" y1="188.5" x2="151.5" y2="188.5" stroke="#808080" stroke-width="1"/>
<text transform="translate(145,192.5) scale(0.89,1)" text-anchor="end" fill="#808080" font-size="12">270 W</text>
<line x1="147.5" y1="226.5" x2="151.5" y2="226.5" stroke="#808080" stroke-width="1"/>
<text transform="translate(145,230.5) scale(0.89,1)" text-anchor="end" fill="#808080" font-size="12">240</text>
<line x1="147.5" y1="264.5" x2="151.5" y2="264.5" stroke="#808080" stroke-width="1"/>
<text transform="translate(145,268.5) scale(0.89,1)" text-anchor="end" fill="#808080" font-size="12">210</text>
<line x1="147.5" y1="301.5" x2="151.5" y2="301.5" stroke="#808080" stroke-width="1"/>
<text transform="translate(145,305.5) scale(0.89,1)" text-anchor="end" fill="#808080" font-size="12">180 S</text>
<line x1="147.5" y1="338.5" x2="151.5" y2="338.5" stroke="#808080" stroke-width="1"/>
<text transform="translate(145,342.5) scale(0.89,1)" text-anchor="end" fill="#808080" font-size="12">150</text>
<line x1="147.5" y1="376.5" x2="151.5" y2="376.5" stroke="#808080" stroke-width="1"/>
<text transform="translate(145,380.5) scale(0.89,1)" text-anchor="end" fill="#808080" font-size="12">120</text>
<line x1="147.5" y1="414.5" x2="151.5" y2="414.5" stroke="#808080" stroke-width="1"/>
<text transform="translate(145,418.5) scale(0.89,1)" text-anchor="end" fill="#808080" font-size="12"></text>
<line x1="147.5" y1="451.5" x2="151.5" y2="451.5" stroke="#808080" stroke-width="1"/>
<text transform="translate(145,455.5) scale(0.89,1)" text-anchor="end" fill="#808080" font-size="12">60</text>
<line x1="147.5" y1="488.5" x2="151.5" y2="488.5" stroke="#808080" stroke-width="1"/>
<text transform="translate(145,492.5) scale(0.89,1)" text-anchor="end" fill="#808080" font-size="12">30</text>
<line x1="147.5" y1="526.5" x2="151.5" y2="526.5" stroke="#808080" stroke-width="1"/>
<text transform="translate(145,530.5) scale(0.89,1)" text-anchor="end" fill="#808080" font-size="12"></text>
<line x1="147" y1="76.5" x2="156" y2="76.5" stroke="#808080" stroke-width="1"/>
<line x1="147" y1="526.5" x2="156" y2="526.5" stroke="#808080" stroke-width="1"/>
<text transform="translate(119.5,418.0) scale(0.89,1)" text-anchor="start" fill="#808080" font-size="12">90</text>
<text transform="translate(145,418.5) scale(0.89,1)" text-anchor="end" fill="#808080" font-size="12">O</text>
<text transform="translate(120,530.5) scale(0.89,1)" text-anchor="start" fill="#808080" font-size="12">0</text>
<text transform="translate(145,530.5) scale(0.89,1)" text-anchor="end" fill="#808080" font-size="12">N</text>
<text transform="translate(138,65) scale(0.89,1)" text-anchor="start" fill="#808080" font-size="12">°</text>
<line x1="184" y1="76.5" x2="188" y2="76.5" stroke="#808080" stroke-width="1"/>
<text transform="translate(182,80.5) scale(0.89,1)" text-anchor="end" fill="#f0f" font-size="12">10.0</text>
<line x1="184" y1="121.5" x2="188" y2="121.5" stroke="#808080" stroke-width="1"/>
<text transform="translate(182,125.5) scale(0.89,1)" text-anchor="end" fill="#f0f" font-size="12">9.0</text>
<line x1="184" y1="166.5" x2="188" y2="166.5" stroke="#808080" stroke-width="1"/>
<text transform="translate(182,170.5) scale(0.89,1)" text-anchor="end" fill="#f0f" font-size="12">8.0</text>
<line x1="184" y1="211.5" x2="188" y2="211.5" stroke="#808080" stroke-width="1"/>
<text transform="translate(182,215.5) scale(0.89,1)" text-anchor="end" fill="#f0f" font-size="12">7.0</text>
<line x1="184" y1="256.5" x2="188" y2="256.5" stroke="#808080" stroke-width="1"/>
<text transform="translate(182,260.5) scale(0.89,1)" text-anchor="end" fill="#f0f" font-size="12">6.0</text>
<line x1="184" y1="301.5" x2="188" y2="301.5" stroke="#808080" stroke-width="1"/>
<text transform="translate(182,305.5) scale(0.89,1)" text-anchor="end" fill="#f0f" font-size="12">5.0</text>
<line x1="184" y1="346.5" x2="188" y2="346.5" stroke="#808080" stroke-width="1"/>
<text transform="translate(182,350.5) scale(0.89,1)" text-anchor="end" fill="#f0f" font-size="12">4.0</text>
<line x1="184" y1="391.5" x2="188" y2="391.5" stroke="#808080" stroke-width="1"/>
<text transform="translate(182,395.5) scale(0.89,1)" text-anchor="end" fill="#f0f" font-size="12">3.0</text>
<line x1="184" y1="436.5" x2="188" y2="436.5" stroke="#808080" stroke-width="1"/>
<text transform="translate(182,440.5) scale(0.89,1)" text-anchor="end" fill="#f0f" font-size="12">2.0</text>
<line x1="184" y1="481.5" x2="188" y2="481.5" stroke="#808080" stroke-width="1"/>
<text transform="translate(182,485.5) scale(0.89,1)" text-anchor="end" fill="#f0f" font-size="12">1.0</text>
<line x1="184" y1="526.5" x2="188" y2="526.5" stroke="#808080" stroke-width="1"/>
<text transform="translate(182,530.5) scale(0.89,1)" text-anchor="end" fill="#f0f" font-size="12">0.0</text>
<text transform="translate(158,65) scale(0.89,1)" text-anchor="start" fill="#f0f" font-size="12">UV-I</text>
<line x1="1049" y1="76.5" x2="1053" y2="76.5" stroke="#808080" stroke-width="1"/>
<text transform="translate(1055,80.5) scale(0.89,1)" text-anchor="start" fill="#00f" font-size="12">100</text>
<line x1="1049" y1="121.5" x2="1053" y2="121.5" stroke="#808080" stroke-width="1"/>
<text transform="translate(1055,125.5) scale(0.89,1)" text-anchor="start" fill="#00f" font-size="12">90</text>
<line x1="1049" y1="166.5" x2="1053" y2="166.5" stroke="#808080" stroke-width="1"/>
<text transform="translate(1055,170.5) scale(0.89,1)" text-anchor="start" fill="#00f" font-size="12">80</text>
<line x1="1049" y1="211.5" x2="1053" y2="211.5" stroke="#808080" stroke-width="1"/>
<text transform="translate(1055,215.5) scale(0.89,1)" text-anchor="start" fill="#00f" font-size="12">70</text>
<line x1="1049" y1="256.5" x2="1053" y2="256.5" stroke="#808080" stroke-width="1"/>
<text transform="translate(1055,260.5) scale(0.89,1)" text-anchor="start" fill="#00f" font-size="12">60</text>
<line x1="1049" y1="301.5" x2="1053" y2="301.5" stroke="#808080" stroke-width="1"/>
<text transform="translate(1055,305.5) scale(0.89,1)" text-anchor="start" fill="#00f" font-size="12">50</text>
<line x1="1049" y1="346.5" x2="1053" y2="346.5" stroke="#808080" stroke-width="1"/>
<text transform="translate(1055,350.5) scale(0.89,1)" text-anchor="start" fill="#00f" font-size="12">40</text>
<line x1="1049" y1="391.5" x2="1053" y2="391.5" stroke="#808080" stroke-width="1"/>
<text transform="translate(1055,395.5) scale(0.89,1)" text-anchor="start" fill="#00f" font-size="12">30</text>
<line x1="1049" y1="436.5" x2="1053" y2="436.5" stroke="#808080" stroke-width="1"/>
<text transform="translate(1055,440.5) scale(0.89,1)" text-anchor="start" fill="#00f" font-size="12">20</text>
<line x1="1049" y1="481.5" x2="1053" y2="481.5" stroke="#808080" stroke-width="1"/>
<text transform="translate(1055,485.5) scale(0.89,1)" text-anchor="start" fill="#00f" font-size="12">10</text>
<line x1="1049" y1="526.5" x2="1053" y2="526.5" stroke="#808080" stroke-width="1"/>
<text transform="translate(1055,530.5) scale(0.89,1)" text-anchor="start" fill="#00f" font-size="12">0</text>
<text transform="translate(1049,65) scale(0.89,1)" text-anchor="start" fill="#00f" font-size="12">%</text>
<line x1="1085.5" y1="76" x2="1085.5" y2="526" stroke="#808080" stroke-width="1"/>
<line x1="1085.5" y1="76.5" x2="1090" y2="76.5" stroke="#808080" stroke-width="1"/>
<text transform="translate(1092,80.5) scale(0.89,1)" text-anchor="start" fill="#0f0" font-size="12">1030</text>
<line x1="1085.5" y1="132.5" x2="1090" y2="132.5" stroke="#808080" stroke-width="1"/>
<text transform="translate(1092,136.5) scale(0.89,1)" text-anchor="start" fill="#0f0" font-size="12">1025</text>
<line x1="1085.5" y1="188.5" x2="1090" y2="188.5" stroke="#808080" stroke-width="1"/>
<text transform="translate(1092,192.5) scale(0.89,1)" text-anchor="start" fill="#0f0" font-size="12">1020</text>
<line x1="1085.5" y1="245.5" x2="1090" y2="245.5" stroke="#808080" stroke-width="1"/>
<text transform="translate(1092,249.5) scale(0.89,1)" text-anchor="start" fill="#0f0" font-size="12">1015</text>
<line x1="1085.5" y1="301.5" x2="1090" y2="301.5" stroke="#808080" stroke-width="1"/>
<text transform="translate(1092,305.5) scale(0.89,1)" text-anchor="start" fill="#0f0" font-size="12">1010</text>
<line x1="1085.5" y1="357.5" x2="1090" y2="357.5" stroke="#808080" stroke-width="1"/>
<text transform="translate(1092,361.5) scale(0.89,1)" text-anchor="start" fill="#0f0" font-size="12">1005</text>
<line x1="1085.5" y1="414.5" x2="1090" y2="414.5" stroke="#808080" stroke-width="1"/>
<text transform="translate(1092,418.5) scale(0.89,1)" text-anchor="start" fill="#0f0" font-size="12">1000</text>
<line x1="1085.5" y1="470.5" x2="1090" y2="470.5" stroke="#808080" stroke-width="1"/>
<text transform="translate(1092,474.5) scale(0.89,1)" text-anchor="start" fill="#0f0" font-size="12">995</text>
<line x1="1085.5" y1="526.5" x2="1090" y2="526.5" stroke="#808080" stroke-width="1"/>
<text transform="translate(1092,530.5) scale(0.89,1)" text-anchor="start" fill="#0f0" font-size="12">990</text>
<line x1="1081" y1="76.5" x2="1090" y2="76.5" stroke="#808080" stroke-width="1"/>
<line x1="1081" y1="526.5" x2="1086" y2="526.5" stroke="#808080" stroke-width="1"/>
<text transform="translate(1086,65) scale(0.89,1)" text-anchor="start" fill="#0f0" font-size="12">hPa</text>
<line x1="1122.5" y1="76" x2="1122.5" y2="526" stroke="#808080" stroke-width="1"/>
<line x1="1122.5" y1="76.5" x2="1127" y2="76.5" stroke="#808080" stroke-width="1"/>
<text transform="translate(1129,80.5) scale(0.89,1)" text-anchor="start" fill="#000" font-size="12">60.0</text>
<line x1="1122.5" y1="114.5" x2="1127" y2="114.5" stroke="#808080" stroke-width="1"/>
<text transform="translate(1129,118.5) scale(0.89,1)" text-anchor="start" fill="#000" font-size="12">55.0</text>
<line x1="1122.5" y1="151.5" x2="1127" y2="151.5" stroke="#808080" stroke-width="1"/>
<text transform="translate(1129,155.5) scale(0.89,1)" text-anchor="start" fill="#000" font-size="12">50.0</text>
<line x1="1122.5" y1="188.5" x2="1127" y2="188.5" stroke="#808080" stroke-width="1"/>
<text transform="translate(1129,192.5) scale(0.89,1)" text-anchor="start" fill="#000" font-size="12">45.0</text>
<line x1="1122.5" y1="226.5" x2="1127" y2="226.5" stroke="#808080" stroke-width="1"/>
<text transform="translate(1129,230.5) scale(0.89,1)" text-anchor="start" fill="#000" font-size="12">40.0</text>
<line x1="1122.5" y1="264.5" x2="1127" y2="264.5" stroke="#808080" stroke-width="1"/>
<text transform="translate(1129,268.5) scale(0.89,1)" text-anchor="start" fill="#000" font-size="12">35.0</text>
<line x1="1122.5" y1="301.5" x2="1127" y2="301.5" stroke="#808080" stroke-width="1"/>
<text transform="translate(1129,305.5) scale(0.89,1)" text-anchor="start" fill="#000" font-size="12">30.0</text>
<line x1="1122.5" y1="338.5" x2="1127" y2="338.5" stroke="#808080" stroke-width="1"/>
<text transform="translate(1129,342.5) scale(0.89,1)" text-anchor="start" fill="#000" font-size="12">25.0</text>
<line x1="1122.5" y1="376.5" x2="1127" y2="376.5" stroke="#808080" stroke-width="1"/>
<text transform="translate(1129,380.5) scale(0.89,1)" text-anchor="start" fill="#000" font-size="12">20.0</text>
<line x1="1122.5" y1="414.5" x2="1127" y2="414.5" stroke="#808080" stroke-width="1"/>
<text transform="translate(1129,418.5) scale(0.89,1)" text-anchor="start" fill="#000" font-size="12">15.0</text>
<line x1="1122.5" y1="451.5" x2="1127" y2="451.5" stroke="#808080" stroke-width="1"/>
<text transform="translate(1129,455.5) scale(0.89,1)" text-anchor="start" fill="#000" font-size="12">10.0</text>
<line x1="1122.5" y1="488.5" x2="1127" y2="488.5" stroke="#808080" stroke-width="1"/>
<text transform="translate(1129,492.5) scale(0.89,1)" text-anchor="start" fill="#000" font-size="12">5.0</text>
<line x1="1122.5" y1="526.5" x2="1127" y2="526.5" stroke="#808080" stroke-width="1"/>
<text transform="translate(1129,530.5) scale(0.89,1)" text-anchor="start" fill="#000" font-size="12">0.0</text>
<line x1="1118" y1="76.5" x2="1127" y2="76.5" stroke="#808080" stroke-width="1"/>
<line x1="1118" y1="526.5" x2="1123" y2="526.5" stroke="#808080" stroke-width="1"/>
<text transform="translate(1122,65) scale(0.89,1)" text-anchor="start" fill="#000" font-size="12">km/h</text>
<line x1="1159.5" y1="76" x2="1159.5" y2="526" stroke="#808080" stroke-width="1"/>
<line x1="1159.5" y1="76.5" x2="1164" y2="76.5" stroke="#808080" stroke-width="1"/>
<text transform="translate(1166,80.5) scale(0.89,1)" text-anchor="start" fill="#ff0" font-size="12">100</text>
<line x1="1159.5" y1="121.5" x2="1164" y2="121.5" stroke="#808080" stroke-width="1"/>
<text transform="translate(1166,125.5) scale(0.89,1)" text-anchor="start" fill="#ff0" font-size="12">90</text>
<line x1="1159.5" y1="166.5" x2="1164" y2="166.5" stroke="#808080" stroke-width="1"/>
<text transform="translate(1166,170.5) scale(0.89,1)" text-anchor="start" fill="#ff0" font-size="12">80</text>
<line x1="1159.5" y1="211.5" x2="1164" y2="211.5" stroke="#808080" stroke-width="1"/>
<text transform="translate(1166,215.5) scale(0.89,1)" text-anchor="start" fill="#ff0" font-size="12">70</text>
<line x1="1159.5" y1="256.5" x2="1164" y2="256.5" stroke="#808080" stroke-width="1"/>
<text transform="translate(1166,260.5) scale(0.89,1)" text-anchor="start" fill="#ff0" font-size="12">60</text>
<line x1="1159.5" y1="301.5" x2="1164" y2="301.5" stroke="#808080" stroke-width="1"/>
<text transform="translate(1166,305.5) scale(0.89,1)" text-anchor="start" fill="#ff0" font-size="12">50</text>
<line x1="1159.5" y1="346.5" x2="1164" y2="346.5" stroke="#808080" stroke-width="1"/>
<text transform="translate(1166,350.5) scale(0.89,1)" text-anchor="start" fill="#ff0" font-size="12">40</text>
<line x1="1159.5" y1="391.5" x2="1164" y2="391.5" stroke="#808080" stroke-width="1"/>
<text transform="translate(1166,395.5) scale(0.89,1)" text-anchor="start" fill="#ff0" font-size="12">30</text>
<line x1="1159.5" y1="436.5" x2="1164" y2="436.5" stroke="#808080" stroke-width="1"/>
<text transform="translate(1166,440.5) scale(0.89,1)" text-anchor="start" fill="#ff0" font-size="12">20</text>
<line x1="1159.5" y1="481.5" x2="1164" y2="481.5" stroke="#808080" stroke-width="1"/>
<text transform="translate(1166,485.5) scale(0.89,1)" text-anchor="start" fill="#ff0" font-size="12">10</text>
<line x1="1159.5" y1="526.5" x2="1164" y2="526.5" stroke="#808080" stroke-width="1"/>
<text transform="translate(1166,530.5) scale(0.89,1)" text-anchor="start" fill="#ff0" font-size="12">0</text>
<line x1="1155" y1="76.5" x2="1164" y2="76.5" stroke="#808080" stroke-width="1"/>
<line x1="1155" y1="526.5" x2="1160" y2="526.5" stroke="#808080" stroke-width="1"/>
<text transform="translate(1160,65) scale(0.89,1)" text-anchor="start" fill="#ff0" font-size="12">min</text>
<line x1="1196.5" y1="76" x2="1196.5" y2="526" stroke="#808080" stroke-width="1"/>
<line x1="1196.5" y1="76.5" x2="1201" y2="76.5" stroke="#808080" stroke-width="1"/>
<text transform="translate(1203,80.5) scale(0.89,1)" text-anchor="start" fill="#ff8080" font-size="12">1200</text>
<line x1="1196.5" y1="95.5" x2="1201" y2="95.5" stroke="#808080" stroke-width="1"/>
<text transform="translate(1203,99.5) scale(0.89,1)" text-anchor="start" fill="#ff8080" font-size="12">1150</text>
<line x1="1196.5" y1="114.5" x2="1201" y2="114.5" stroke="#808080" stroke-width="1"/>
<text transform="translate(1203,118.5) scale(0.89,1)" text-anchor="start" fill="#ff8080" font-size="12">1100</text>
<line x1="1196.5" y1="132.5" x2="1201" y2="132.5" stroke="#808080" stroke-width="1"/>
<text transform="translate(1203,136.5) scale(0.89,1)" text-anchor="start" fill="#ff8080" font-size="12">1050</text>
<line x1="1196.5" y1="151.5" x2="1201" y2="151.5" stroke="#808080" stroke-width="1"/>
<text transform="translate(1203,155.5) scale(0.89,1)" text-anchor="start" fill="#ff8080" font-size="12">1000</text>
<line x1="1196.5" y1="170.5" x2="1201" y2="170.5" stroke="#808080" stroke-width="1"/>
<text transform="translate(1203,174.5) scale(0.89,1)" text-anchor="start" fill="#ff8080" font-size="12">950</text>
<line x1="1196.5" y1="188.5" x2="1201" y2="188.5" stroke="#808080" stroke-width="1"/>
<text transform="translate(1203,192.5) scale(0.89,1)" text-anchor="start" fill="#ff8080" font-size="12">900</text>
<line x1="1196.5" y1="207.5" x2="1201" y2="207.5" stroke="#808080" stroke-width="1"/>
<text transform="translate(1203,211.5) scale(0.89,1)" text-anchor="start" fill="#ff8080" font-size="12">850</text>
<line x1="1196.5" y1="226.5" x2="1201" y2="226.5" stroke="#808080" stroke-width="1"/>
<text transform="translate(1203,230.5) scale(0.89,1)" text-anchor="start" fill="#ff8080" font-size="12">800</text>
<line x1="1196.5" y1="245.5" x2="1201" y2="245.5" stroke="#808080" stroke-width="1"/>
<text transform="translate(1203,249.5) scale(0.89,1)" text-anchor="start" fill="#ff8080" font-size="12">750</text>
<line x1="1196.5" y1="264.5" x2="1201" y2="264.5" stroke="#808080" stroke-width="1"/>
<text transform="translate(1203,268.5) scale(0.89,1)" text-anchor="start" fill="#ff8080" font-size="12">700</text>
<line x1="1196.5" y1="282.5" x2="1201" y2="282.5" stroke="#808080" stroke-width="1"/>
<text transform="translate(1203,286.5) scale(0.89,1)" text-anchor="start" fill="#ff8080" font-size="12">650</text>
<line x1="1196.5" y1="301.5" x2="1201" y2="301.5" stroke="#808080" stroke-width="1"/>
<text transform="translate(1203,305.5) scale(0.89,1)" text-anchor="start" fill="#ff8080" font-size="12">600</text>
<line x1="1196.5" y1="320.5" x2="1201" y2="320.5" stroke="#808080" stroke-width="1"/>
<text transform="translate(1203,324.5) scale(0.89,1)" text-anchor="start" fill="#ff8080" font-size="12">550</text>
<line x1="1196.5" y1="338.5" x2="1201" y2="338.5" stroke="#808080" stroke-width="1"/>
<text transform="translate(1203,342.5) scale(0.89,1)" text-anchor="start" fill="#ff8080" font-size="12">500</text>
<line x1="1196.5" y1="357.5" x2="1201" y2="357.5" stroke="#808080" stroke-width="1"/>
<text transform="translate(1203,361.5) scale(0.89,1)" text-anchor="start" fill="#ff8080" font-size="12">450</text>
<line x1="1196.5" y1="376.5" x2="1201" y2="376.5" stroke="#808080" stroke-width="1"/>
<text transform="translate(1203,380.5) scale(0.89,1)" text-anchor="start" fill="#ff8080" font-size="12">400</text>
<line x1="1196.5" y1="395.5" x2="1201" y2="395.5" stroke="#808080" stroke-width="1"/>
<text transform="translate(1203,399.5) scale(0.89,1)" text-anchor="start" fill="#ff8080" font-size="12">350</text>
<line x1="1196.5" y1="414.5" x2="1201" y2="414.5" stroke="#808080" stroke-width="1"/>
<text transform="translate(1203,418.5) scale(0.89,1)" text-anchor="start" fill="#ff8080" font-size="12">300</text>
<line x1="1196.5" y1="432.5" x2="1201" y2="432.5" stroke="#808080" stroke-width="1"/>
<text transform="translate(1203,436.5) scale(0.89,1)" text-anchor="start" fill="#ff8080" font-size="12">250</text>
<line x1="1196.5" y1="451.5" x2="1201" y2="451.5" stroke="#808080" stroke-width="1"/>
<text transform="translate(1203,455.5) scale(0.89,1)" text-anchor="start" fill="#ff8080" font-size="12">200</text>
<line x1="1196.5" y1="470.5" x2="1201" y2="470.5" stroke="#808080" stroke-width="1"/>
<text transform="translate(1203,474.5) scale(0.89,1)" text-anchor="start" fill="#ff8080" font-size="12">150</text>
<line x1="1196.5" y1="488.5" x2="1201" y2="488.5" stroke="#808080" stroke-width="1"/>
<text transform="translate(1203,492.5) scale(0.89,1)" text-anchor="start" fill="#ff8080" font-size="12">100</text>
<line x1="1196.5" y1="507.5" x2="1201" y2="507.5" stroke="#808080" stroke-width="1"/>
<text transform="translate(1203,511.5) scale(0.89,1)" text-anchor="start" fill="#ff8080" font-size="12">50</text>
<line x1="1196.5" y1="526.5" x2="1201" y2="526.5" stroke="#808080" stroke-width="1"/>
<text transform="translate(1203,530.5) scale(0.89,1)" text-anchor="start" fill="#ff8080" font-size="12">0</text>
<line x1="1192" y1="76.5" x2="1201" y2="76.5" stroke="#808080" stroke-width="1"/>
<line x1="1192" y1="526.5" x2="1197" y2="526.5" stroke="#808080" stroke-width="1"/>
<text transform="translate(1196,65) scale(0.89,1)" text-anchor="start" fill="#ff8080" font-size="12">W/m²</text>
<defs><clipPath id="frag"><rect x="1241" y="40" width="9" height="480"/></clipPath></defs><g clip-path="url(#frag)">
<text transform="translate(1239,67.5) scale(0.89,1)" text-anchor="start" fill="#0f0" font-size="12">0</text>
<text transform="translate(1239,122.5) scale(0.89,1)" text-anchor="start" fill="#0f0" font-size="12">5</text>
<text transform="translate(1239,176.5) scale(0.89,1)" text-anchor="start" fill="#0f0" font-size="12">0</text>
<text transform="translate(1239,231.5) scale(0.89,1)" text-anchor="start" fill="#0f0" font-size="12">5</text>
<text transform="translate(1239,287.5) scale(0.89,1)" text-anchor="start" fill="#0f0" font-size="12">0</text>
<text transform="translate(1239,342.5) scale(0.89,1)" text-anchor="start" fill="#0f0" font-size="12">5</text>
<text transform="translate(1239,396.5) scale(0.89,1)" text-anchor="start" fill="#0f0" font-size="12">0</text>
</g>
<line x1="1246" y1="63.5" x2="1250" y2="63.5" stroke="#808080" stroke-width="1"/>
<line x1="1247" y1="501.5" x2="1250" y2="501.5" stroke="#808080" stroke-width="1"/>
<rect x="1" y="561" width="1240" height="80" fill="#cdfaf7"/>
<rect x="1242" y="537" width="8" height="91" fill="#cdfaf7"/>
<rect x="1241" y="560" width="1" height="81" fill="#808080"/>
<rect x="1242" y="628" width="8" height="13" fill="#808080"/>
<rect x="1244" y="630" width="6" height="11" fill="#e8e8e8"/>
<rect x="88" y="561" width="1" height="80" fill="#808080"/>
<rect x="205" y="561" width="1" height="80" fill="#808080"/>
<rect x="323" y="561" width="1" height="80" fill="#808080"/>
<rect x="441" y="561" width="1" height="80" fill="#808080"/>
<rect x="559" y="561" width="1" height="80" fill="#808080"/>
<rect x="677" y="561" width="1" height="80" fill="#808080"/>
<rect x="795" y="561" width="1" height="80" fill="#808080"/>
<rect x="913" y="561" width="1" height="80" fill="#808080"/>
<text transform="translate(9,579) scale(0.99,1)" text-anchor="start" fill="#000" font-size="12" font-weight="bold">Sensor</text>
<text transform="translate(9,595) scale(0.99,1)" text-anchor="start" fill="#000" font-size="12" font-weight="bold">MinWert</text>
<text transform="translate(9,611) scale(0.99,1)" text-anchor="start" fill="#000" font-size="12" font-weight="bold">MaxWert</text>
<text transform="translate(9,627) scale(0.99,1)" text-anchor="start" fill="#000" font-size="12" font-weight="bold">Durchschnitt</text>
<text transform="translate(9,643) scale(1.12,1)" text-anchor="start" fill="#000" font-size="12" font-weight="bold">15.09. 23:55</text>
<text transform="translate(95,579) scale(0.99,1)" text-anchor="start" fill="#000" font-size="12" font-weight="bold">Temp. 2m</text>
<text transform="translate(198,579) scale(0.99,1)" text-anchor="end" fill="#000" font-size="12" font-weight="bold">°C</text>
<text transform="translate(101,595) scale(0.89,1)" text-anchor="start" fill="#000" font-size="12">07:20</text>
<text transform="translate(198,595) scale(0.89,1)" text-anchor="end" fill="#000" font-size="12">13.8</text>
<text transform="translate(101,611) scale(0.89,1)" text-anchor="start" fill="#000" font-size="12">15:20</text>
<text transform="translate(198,611) scale(0.89,1)" text-anchor="end" fill="#000" font-size="12">25.1</text>
<text transform="translate(198,627) scale(0.89,1)" text-anchor="end" fill="#000" font-size="12">19.17</text>
<text transform="translate(198,643) scale(1.14,1)" text-anchor="end" fill="#000" font-size="12" font-weight="bold">16.6</text>
<text transform="translate(213,579) scale(0.99,1)" text-anchor="start" fill="#000" font-size="12" font-weight="bold">Feuchte 2m</text>
<text transform="translate(316,579) scale(0.99,1)" text-anchor="end" fill="#000" font-size="12" font-weight="bold">%</text>
<text transform="translate(219,595) scale(0.89,1)" text-anchor="start" fill="#000" font-size="12">16:35</text>
<text transform="translate(316,595) scale(0.89,1)" text-anchor="end" fill="#000" font-size="12">51</text>
<text transform="translate(219,611) scale(0.89,1)" text-anchor="start" fill="#000" font-size="12">07:30</text>
<text transform="translate(316,611) scale(0.89,1)" text-anchor="end" fill="#000" font-size="12">92</text>
<text transform="translate(316,627) scale(0.89,1)" text-anchor="end" fill="#000" font-size="12">74</text>
<text transform="translate(213,643) scale(0.89,1)" text-anchor="start" fill="#000" font-size="12">11.31 g/m³</text>
<text transform="translate(316,643) scale(1.14,1)" text-anchor="end" fill="#000" font-size="12" font-weight="bold">80</text>
<text transform="translate(331,579) scale(0.99,1)" text-anchor="start" fill="#000" font-size="12" font-weight="bold">Luftdruck</text>
<text transform="translate(434,579) scale(0.99,1)" text-anchor="end" fill="#000" font-size="12" font-weight="bold">hPa</text>
<text transform="translate(337,595) scale(0.89,1)" text-anchor="start" fill="#000" font-size="12">17:40</text>
<text transform="translate(434,595) scale(0.89,1)" text-anchor="end" fill="#000" font-size="12">1017.7</text>
<text transform="translate(337,611) scale(0.89,1)" text-anchor="start" fill="#000" font-size="12">11:35</text>
<text transform="translate(434,611) scale(0.89,1)" text-anchor="end" fill="#000" font-size="12">1019.0</text>
<text transform="translate(331,627) scale(0.89,1)" text-anchor="start" fill="#000" font-size="12">^0.5hPa/h</text>
<text transform="translate(434,627) scale(0.89,1)" text-anchor="end" fill="#000" font-size="12">1018.4</text>
<text transform="translate(331,643) scale(0.89,1)" text-anchor="start" fill="#000" font-size="12">sonnig</text>
<text transform="translate(434,643) scale(1.14,1)" text-anchor="end" fill="#000" font-size="12" font-weight="bold">1018.7</text>
<text transform="translate(449,579) scale(0.99,1)" text-anchor="start" fill="#000" font-size="12" font-weight="bold">Wind</text>
<text transform="translate(552,579) scale(0.99,1)" text-anchor="end" fill="#000" font-size="12" font-weight="bold">km/h</text>
<text transform="translate(449,595) scale(0.89,1)" text-anchor="start" fill="#000" font-size="12">Ø 10 min.</text>
<text transform="translate(552,595) scale(0.89,1)" text-anchor="end" fill="#000" font-size="12">3.4</text>
<text transform="translate(455,611) scale(0.89,1)" text-anchor="start" fill="#000" font-size="12">12:15</text>
<text transform="translate(552,611) scale(0.89,1)" text-anchor="end" fill="#000" font-size="12">O-SO 13.6</text>
<text transform="translate(455,627) scale(0.89,1)" text-anchor="start" fill="#000" font-size="12">249.6 km</text>
<text transform="translate(552,627) scale(0.89,1)" text-anchor="end" fill="#000" font-size="12">5.6</text>
<text transform="translate(455,643) scale(0.89,1)" text-anchor="start" fill="#000" font-size="12">1 Bft NO</text>
<text transform="translate(552,643) scale(1.14,1)" text-anchor="end" fill="#000" font-size="12" font-weight="bold">3.7</text>
<text transform="translate(567,579) scale(0.99,1)" text-anchor="start" fill="#000" font-size="12" font-weight="bold">Windböen</text>
<text transform="translate(670,579) scale(0.99,1)" text-anchor="end" fill="#000" font-size="12" font-weight="bold">km/h</text>
<text transform="translate(567,595) scale(0.89,1)" text-anchor="start" fill="#000" font-size="12">Ø 10 min.</text>
<text transform="translate(670,595) scale(0.89,1)" text-anchor="end" fill="#000" font-size="12">6.4</text>
<text transform="translate(573,611) scale(0.89,1)" text-anchor="start" fill="#000" font-size="12">12:10</text>
<text transform="translate(670,611) scale(0.89,1)" text-anchor="end" fill="#000" font-size="12">O-SO 25.7</text>
<text transform="translate(573,627) scale(0.89,1)" text-anchor="start" fill="#000" font-size="12">249.6 km</text>
<text transform="translate(670,627) scale(0.89,1)" text-anchor="end" fill="#000" font-size="12">10.4</text>
<text transform="translate(573,643) scale(0.89,1)" text-anchor="start" fill="#000" font-size="12">2 Bft NO</text>
<text transform="translate(670,643) scale(1.14,1)" text-anchor="end" fill="#000" font-size="12" font-weight="bold">6.4</text>
<text transform="translate(685,579) scale(0.99,1)" text-anchor="start" fill="#000" font-size="12" font-weight="bold">Regen</text>
<text transform="translate(788,579) scale(0.99,1)" text-anchor="end" fill="#000" font-size="12" font-weight="bold">l/m²</text>
<text transform="translate(691,611) scale(0.89,1)" text-anchor="start" fill="#000" font-size="12">23:55</text>
<text transform="translate(788,611) scale(0.89,1)" text-anchor="end" fill="#000" font-size="12">0.0</text>
<text transform="translate(685,627) scale(0.89,1)" text-anchor="start" fill="#000" font-size="12">Gesamt:</text>
<text transform="translate(788,627) scale(0.89,1)" text-anchor="end" fill="#000" font-size="12">0.0</text>
<text transform="translate(691,643) scale(0.89,1)" text-anchor="start" fill="#000" font-size="12">0.0 l/m²</text>
<text transform="translate(788,643) scale(1.14,1)" text-anchor="end" fill="#000" font-size="12" font-weight="bold">0.0</text>
<text transform="translate(803,579) scale(0.99,1)" text-anchor="start" fill="#000" font-size="12" font-weight="bold">UV</text>
<text transform="translate(906,579) scale(0.99,1)" text-anchor="end" fill="#000" font-size="12" font-weight="bold">UV-I</text>
<text transform="translate(809,595) scale(0.89,1)" text-anchor="start" fill="#000" font-size="12">23:55</text>
<text transform="translate(906,595) scale(0.89,1)" text-anchor="end" fill="#000" font-size="12">0.0</text>
<text transform="translate(809,611) scale(0.89,1)" text-anchor="start" fill="#000" font-size="12">13:00</text>
<text transform="translate(906,611) scale(0.89,1)" text-anchor="end" fill="#000" font-size="12">2.9</text>
<text transform="translate(906,627) scale(0.89,1)" text-anchor="end" fill="#000" font-size="12">1.8</text>
<text transform="translate(906,643) scale(1.14,1)" text-anchor="end" fill="#000" font-size="12" font-weight="bold">0.0</text>
<text transform="translate(921,579) scale(0.99,1)" text-anchor="start" fill="#000" font-size="12" font-weight="bold">Solar</text>
<text transform="translate(1021,579) scale(0.99,1)" text-anchor="end" fill="#000" font-size="12" font-weight="bold">W/m²</text>
<text transform="translate(921,595) scale(0.89,1)" text-anchor="start" fill="#000" font-size="12">Elevation</text>
<text transform="translate(1021,595) scale(0.89,1)" text-anchor="end" fill="#000" font-size="12">-33.341</text>
<text transform="translate(927,611) scale(0.89,1)" text-anchor="start" fill="#000" font-size="12">12:15</text>
<text transform="translate(1021,611) scale(0.89,1)" text-anchor="end" fill="#000" font-size="12">624</text>
<text transform="translate(921,627) scale(0.89,1)" text-anchor="start" fill="#000" font-size="12">9:45 h</text>
<text transform="translate(1021,627) scale(0.89,1)" text-anchor="end" fill="#000" font-size="12">322</text>
<text transform="translate(921,643) scale(0.89,1)" text-anchor="start" fill="#000" font-size="12">dunkel</text>
<text transform="translate(1021,643) scale(1.14,1)" text-anchor="end" fill="#000" font-size="12" font-weight="bold">0</text>
</svg></body></html>
